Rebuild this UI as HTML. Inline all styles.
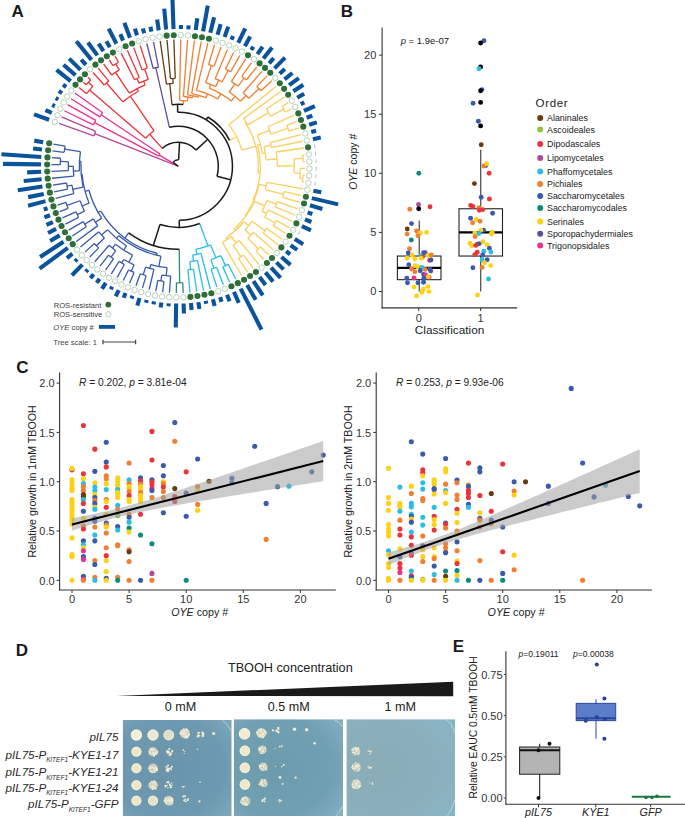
<!DOCTYPE html>
<html><head><meta charset="utf-8"><title>Figure</title>
<style>
html,body{margin:0;padding:0;background:#fff;width:685px;height:818px;overflow:hidden}
svg{display:block;font-family:"Liberation Sans",sans-serif}
.z{stroke:#b3cbe6;stroke-width:1.1}
</style></head><body>
<svg width="685" height="818" viewBox="0 0 685 818"><text x="11.4" y="16.9" font-size="17" font-weight="bold" fill="#1a1a1a">A</text><g fill="none" stroke-linecap="butt"><line x1="178.02" y1="166.19" x2="94.76" y2="133.64" stroke="#b04a9c" stroke-width="1.3"/><path d="M93.9,135.92 A89.7,89.7 0 0,1 95.67,131.4" stroke="#b04a9c" stroke-width="1.3" fill="none"/><line x1="93.9" y1="135.92" x2="59" y2="123.35" stroke="#b04a9c" stroke-width="1.3"/><line x1="95.67" y1="131.4" x2="61.49" y2="116.96" stroke="#b04a9c" stroke-width="1.3"/><line x1="178.04" y1="166.15" x2="159.37" y2="155.08" stroke="#e8338d" stroke-width="1.3"/><path d="M158.79,156.12 A22,22 0 0,1 160.01,154.08" stroke="#e8338d" stroke-width="1.3" fill="none"/><line x1="158.79" y1="156.12" x2="94.52" y2="122.59" stroke="#e8338d" stroke-width="1.3"/><path d="M93.36,124.87 A94.5,94.5 0 0,1 95.73,120.34" stroke="#e8338d" stroke-width="1.3" fill="none"/><line x1="93.36" y1="124.87" x2="64.33" y2="110.71" stroke="#e8338d" stroke-width="1.3"/><line x1="95.73" y1="120.34" x2="67.51" y2="104.63" stroke="#e8338d" stroke-width="1.3"/><line x1="160.01" y1="154.08" x2="101.22" y2="114.8" stroke="#e8338d" stroke-width="1.3"/><path d="M99.86,116.9 A92.7,92.7 0 0,1 102.64,112.73" stroke="#e8338d" stroke-width="1.3" fill="none"/><line x1="99.86" y1="116.9" x2="71" y2="98.73" stroke="#e8338d" stroke-width="1.3"/><line x1="102.64" y1="112.73" x2="74.81" y2="93.03" stroke="#e8338d" stroke-width="1.3"/><line x1="86.61" y1="93.63" x2="78.93" y2="87.54" stroke="#e8343a" stroke-width="1.3"/><line x1="86.18" y1="84.8" x2="83.33" y2="82.28" stroke="#e8343a" stroke-width="1.3"/><line x1="90.72" y1="79.94" x2="88.02" y2="77.27" stroke="#e8343a" stroke-width="1.3"/><path d="M86.18,84.8 A123,123 0 0,1 90.72,79.94" stroke="#e8343a" stroke-width="1.3" fill="none"/><line x1="92.8" y1="86.43" x2="88.42" y2="82.34" stroke="#e8343a" stroke-width="1.3"/><path d="M86.61,93.63 A117,117 0 0,1 92.8,86.43" stroke="#e8343a" stroke-width="1.3" fill="none"/><line x1="145.71" y1="138.25" x2="89.63" y2="89.97" stroke="#e8343a" stroke-width="1.3"/><line x1="104.27" y1="84.94" x2="92.96" y2="72.51" stroke="#e8343a" stroke-width="1.3"/><line x1="108.78" y1="81.06" x2="98.16" y2="68.04" stroke="#e8343a" stroke-width="1.3"/><path d="M104.27,84.94 A110,110 0 0,1 108.78,81.06" stroke="#e8343a" stroke-width="1.3" fill="none"/><line x1="122.82" y1="101.91" x2="106.5" y2="82.97" stroke="#e8343a" stroke-width="1.3"/><line x1="111.72" y1="75" x2="103.59" y2="63.85" stroke="#e8343a" stroke-width="1.3"/><line x1="112.94" y1="65.66" x2="109.24" y2="59.96" stroke="#e8343a" stroke-width="1.3"/><line x1="118.48" y1="62.27" x2="115.09" y2="56.38" stroke="#e8343a" stroke-width="1.3"/><path d="M112.94,65.66 A120,120 0 0,1 118.48,62.27" stroke="#e8343a" stroke-width="1.3" fill="none"/><line x1="119.34" y1="69.9" x2="115.69" y2="63.93" stroke="#e8343a" stroke-width="1.3"/><path d="M111.72,75 A113,113 0 0,1 119.34,69.9" stroke="#e8343a" stroke-width="1.3" fill="none"/><line x1="129.38" y1="93.15" x2="115.48" y2="72.37" stroke="#e8343a" stroke-width="1.3"/><line x1="134.56" y1="79.72" x2="121.13" y2="53.12" stroke="#e8343a" stroke-width="1.3"/><line x1="139.31" y1="77.48" x2="127.33" y2="50.19" stroke="#e8343a" stroke-width="1.3"/><path d="M134.56,79.72 A97,97 0 0,1 139.31,77.48" stroke="#e8343a" stroke-width="1.3" fill="none"/><line x1="139.06" y1="83.09" x2="136.92" y2="78.57" stroke="#e8343a" stroke-width="1.3"/><line x1="142.06" y1="69.89" x2="133.69" y2="47.61" stroke="#e8343a" stroke-width="1.3"/><line x1="147.33" y1="68.07" x2="140.17" y2="45.37" stroke="#e8343a" stroke-width="1.3"/><path d="M142.06,69.89 A103,103 0 0,1 147.33,68.07" stroke="#e8343a" stroke-width="1.3" fill="none"/><line x1="148.27" y1="79.34" x2="144.68" y2="68.94" stroke="#e8343a" stroke-width="1.3"/><path d="M139.06,83.09 A92,92 0 0,1 148.27,79.34" stroke="#e8343a" stroke-width="1.3" fill="none"/><line x1="145.12" y1="84.79" x2="143.61" y2="81.09" stroke="#e8343a" stroke-width="1.3"/><path d="M129.38,93.15 A88,88 0 0,1 145.12,84.79" stroke="#e8343a" stroke-width="1.3" fill="none"/><line x1="138.44" y1="91.22" x2="137.04" y2="88.57" stroke="#e8343a" stroke-width="1.3"/><path d="M122.82,101.91 A85,85 0 0,1 138.44,91.22" stroke="#e8343a" stroke-width="1.3" fill="none"/><line x1="154.03" y1="130.8" x2="130.33" y2="96.13" stroke="#e8343a" stroke-width="1.3"/><path d="M145.71,138.25 A43,43 0 0,1 154.03,130.8" stroke="#e8343a" stroke-width="1.3" fill="none"/><line x1="162.3" y1="148.41" x2="149.63" y2="134.25" stroke="#e8343a" stroke-width="1.3"/><line x1="153.18" y1="68.47" x2="146.77" y2="43.48" stroke="#5b4fa0" stroke-width="1.3"/><line x1="158.51" y1="67.26" x2="153.45" y2="41.96" stroke="#5b4fa0" stroke-width="1.3"/><path d="M153.18,68.47 A101,101 0 0,1 158.51,67.26" stroke="#5b4fa0" stroke-width="1.3" fill="none"/><line x1="169.4" y1="127.3" x2="155.84" y2="67.83" stroke="#5b4fa0" stroke-width="1.3"/><line x1="166.46" y1="84.15" x2="160.21" y2="40.8" stroke="#6a3b12" stroke-width="1.3"/><line x1="170.48" y1="78.65" x2="167.03" y2="40" stroke="#6a3b12" stroke-width="1.3"/><line x1="175.23" y1="78.35" x2="173.87" y2="39.58" stroke="#6a3b12" stroke-width="1.3"/><path d="M170.48,78.65 A88,88 0 0,1 175.23,78.35" stroke="#6a3b12" stroke-width="1.3" fill="none"/><line x1="173.16" y1="83.46" x2="172.85" y2="78.47" stroke="#6a3b12" stroke-width="1.3"/><path d="M166.46,84.15 A83,83 0 0,1 173.16,83.46" stroke="#6a3b12" stroke-width="1.3" fill="none"/><line x1="171.95" y1="104.63" x2="169.8" y2="83.74" stroke="#6a3b12" stroke-width="1.3"/><line x1="179.57" y1="100.31" x2="180.73" y2="39.52" stroke="#f07f32" stroke-width="1.3"/><line x1="183.43" y1="96.49" x2="187.59" y2="39.84" stroke="#f07f32" stroke-width="1.3"/><line x1="187.45" y1="94.88" x2="194.41" y2="40.53" stroke="#f07f32" stroke-width="1.3"/><line x1="191.66" y1="93.52" x2="201.19" y2="41.58" stroke="#f07f32" stroke-width="1.3"/><line x1="196.51" y1="90.46" x2="207.9" y2="43" stroke="#f07f32" stroke-width="1.3"/><line x1="208.58" y1="64.72" x2="214.53" y2="44.78" stroke="#f07f32" stroke-width="1.3"/><line x1="214.03" y1="66.5" x2="221.04" y2="46.92" stroke="#f07f32" stroke-width="1.3"/><path d="M208.58,64.72 A106,106 0 0,1 214.03,66.5" stroke="#f07f32" stroke-width="1.3" fill="none"/><line x1="205.71" y1="82.68" x2="211.32" y2="65.57" stroke="#f07f32" stroke-width="1.3"/><line x1="215.11" y1="78.72" x2="227.44" y2="49.41" stroke="#f07f32" stroke-width="1.3"/><line x1="225.47" y1="69.15" x2="233.69" y2="52.24" stroke="#f07f32" stroke-width="1.3"/><line x1="230.66" y1="71.84" x2="239.77" y2="55.4" stroke="#f07f32" stroke-width="1.3"/><path d="M225.47,69.15 A108,108 0 0,1 230.66,71.84" stroke="#f07f32" stroke-width="1.3" fill="none"/><line x1="222.09" y1="82" x2="228.09" y2="70.46" stroke="#f07f32" stroke-width="1.3"/><path d="M215.11,78.72 A95,95 0 0,1 222.09,82" stroke="#f07f32" stroke-width="1.3" fill="none"/><line x1="215.66" y1="86.63" x2="218.64" y2="80.29" stroke="#f07f32" stroke-width="1.3"/><path d="M205.71,82.68 A88,88 0 0,1 215.66,86.63" stroke="#f07f32" stroke-width="1.3" fill="none"/><line x1="209.27" y1="88.22" x2="210.75" y2="84.5" stroke="#f07f32" stroke-width="1.3"/><line x1="231.44" y1="81.59" x2="245.68" y2="58.88" stroke="#f07f32" stroke-width="1.3"/><line x1="241.71" y1="76.41" x2="251.39" y2="62.69" stroke="#f07f32" stroke-width="1.3"/><line x1="246.48" y1="79.97" x2="256.89" y2="66.79" stroke="#f07f32" stroke-width="1.3"/><path d="M241.71,76.41 A110,110 0 0,1 246.48,79.97" stroke="#f07f32" stroke-width="1.3" fill="none"/><line x1="238.13" y1="86.17" x2="244.12" y2="78.16" stroke="#f07f32" stroke-width="1.3"/><path d="M231.44,81.59 A100,100 0 0,1 238.13,86.17" stroke="#f07f32" stroke-width="1.3" fill="none"/><line x1="229.18" y1="92.06" x2="234.83" y2="83.81" stroke="#f07f32" stroke-width="1.3"/><line x1="243.11" y1="92.79" x2="262.15" y2="71.19" stroke="#f07f32" stroke-width="1.3"/><line x1="256.8" y1="86.42" x2="267.18" y2="75.86" stroke="#f07f32" stroke-width="1.3"/><line x1="261.01" y1="90.78" x2="271.94" y2="80.8" stroke="#f07f32" stroke-width="1.3"/><path d="M256.8,86.42 A112,112 0 0,1 261.01,90.78" stroke="#f07f32" stroke-width="1.3" fill="none"/><line x1="248.85" y1="98.29" x2="258.93" y2="88.57" stroke="#f07f32" stroke-width="1.3"/><path d="M243.11,92.79 A98,98 0 0,1 248.85,98.29" stroke="#f07f32" stroke-width="1.3" fill="none"/><line x1="240.51" y1="101.26" x2="246.04" y2="95.48" stroke="#f07f32" stroke-width="1.3"/><path d="M229.18,92.06 A90,90 0 0,1 240.51,101.26" stroke="#f07f32" stroke-width="1.3" fill="none"/><line x1="231.25" y1="101.09" x2="235.03" y2="96.43" stroke="#f07f32" stroke-width="1.3"/><path d="M209.27,88.22 A84,84 0 0,1 231.25,101.09" stroke="#f07f32" stroke-width="1.3" fill="none"/><line x1="217.72" y1="98.99" x2="220.75" y2="93.82" stroke="#f07f32" stroke-width="1.3"/><path d="M196.51,90.46 A78,78 0 0,1 217.72,98.99" stroke="#f07f32" stroke-width="1.3" fill="none"/><line x1="205.93" y1="97.65" x2="207.43" y2="93.94" stroke="#f07f32" stroke-width="1.3"/><path d="M191.66,93.52 A74,74 0 0,1 205.93,97.65" stroke="#f07f32" stroke-width="1.3" fill="none"/><line x1="198.34" y1="97.15" x2="198.9" y2="95.23" stroke="#f07f32" stroke-width="1.3"/><path d="M187.45,94.88 A72,72 0 0,1 198.34,97.15" stroke="#f07f32" stroke-width="1.3" fill="none"/><line x1="192.53" y1="97.76" x2="192.94" y2="95.8" stroke="#f07f32" stroke-width="1.3"/><path d="M183.43,96.49 A70,70 0 0,1 192.53,97.76" stroke="#f07f32" stroke-width="1.3" fill="none"/><line x1="187.45" y1="100.94" x2="188" y2="96.98" stroke="#f07f32" stroke-width="1.3"/><path d="M179.57,100.31 A66,66 0 0,1 187.45,100.94" stroke="#f07f32" stroke-width="1.3" fill="none"/><line x1="183.2" y1="104.49" x2="183.52" y2="100.51" stroke="#f07f32" stroke-width="1.3"/><path d="M171.95,104.63 A62,62 0 0,1 183.2,104.49" stroke="#1a1a1a" stroke-width="1.5" fill="none"/><line x1="228.99" y1="124.81" x2="276.42" y2="85.99" stroke="#f9d060" stroke-width="1.3"/><line x1="243.66" y1="118.46" x2="280.62" y2="91.41" stroke="#f9d060" stroke-width="1.3"/><line x1="266.26" y1="108.96" x2="284.52" y2="97.05" stroke="#f9d060" stroke-width="1.3"/><line x1="282.22" y1="106.3" x2="288.11" y2="102.9" stroke="#f9d060" stroke-width="1.3"/><line x1="285.32" y1="112.01" x2="291.38" y2="108.93" stroke="#f9d060" stroke-width="1.3"/><path d="M282.22,106.3 A120,120 0 0,1 285.32,112.01" stroke="#f9d060" stroke-width="1.3" fill="none"/><line x1="270.62" y1="116.28" x2="283.81" y2="109.13" stroke="#f9d060" stroke-width="1.3"/><path d="M266.26,108.96 A105,105 0 0,1 270.62,116.28" stroke="#f9d060" stroke-width="1.3" fill="none"/><line x1="247.89" y1="124.85" x2="268.51" y2="112.57" stroke="#f9d060" stroke-width="1.3"/><path d="M243.66,118.46 A81,81 0 0,1 247.89,124.85" stroke="#f9d060" stroke-width="1.3" fill="none"/><line x1="245.02" y1="122.16" x2="245.85" y2="121.61" stroke="#f9d060" stroke-width="1.3"/><line x1="267.97" y1="126.75" x2="294.32" y2="115.13" stroke="#f9d060" stroke-width="1.3"/><line x1="286.81" y1="125.3" x2="296.91" y2="121.48" stroke="#f9d060" stroke-width="1.3"/><line x1="288.87" y1="131.23" x2="299.16" y2="127.96" stroke="#f9d060" stroke-width="1.3"/><path d="M286.81,125.3 A116,116 0 0,1 288.87,131.23" stroke="#f9d060" stroke-width="1.3" fill="none"/><line x1="270.88" y1="134.15" x2="287.88" y2="128.25" stroke="#f9d060" stroke-width="1.3"/><path d="M267.97,126.75 A98,98 0 0,1 270.88,134.15" stroke="#f9d060" stroke-width="1.3" fill="none"/><line x1="257.4" y1="135.18" x2="269.5" y2="130.42" stroke="#f9d060" stroke-width="1.3"/><line x1="270.27" y1="142.51" x2="301.06" y2="134.55" stroke="#f9d060" stroke-width="1.3"/><line x1="271.43" y1="147.52" x2="302.6" y2="141.24" stroke="#f9d060" stroke-width="1.3"/><path d="M270.27,142.51 A95,95 0 0,1 271.43,147.52" stroke="#f9d060" stroke-width="1.3" fill="none"/><line x1="264.06" y1="146.58" x2="270.88" y2="145.01" stroke="#f9d060" stroke-width="1.3"/><line x1="276.26" y1="152.01" x2="303.77" y2="148" stroke="#f9d060" stroke-width="1.3"/><line x1="302.79" y1="154.97" x2="304.58" y2="154.81" stroke="#f9d060" stroke-width="1.3"/><line x1="303.22" y1="161.72" x2="305.01" y2="161.65" stroke="#f9d060" stroke-width="1.3"/><path d="M302.79,154.97 A125,125 0 0,1 303.22,161.72" stroke="#f9d060" stroke-width="1.3" fill="none"/><line x1="294.06" y1="158.92" x2="303.05" y2="158.34" stroke="#f9d060" stroke-width="1.3"/><line x1="300.28" y1="168.43" x2="305.08" y2="168.51" stroke="#f9d060" stroke-width="1.3"/><line x1="302.98" y1="175.24" x2="304.78" y2="175.37" stroke="#f9d060" stroke-width="1.3"/><line x1="302.31" y1="181.97" x2="304.1" y2="182.19" stroke="#f9d060" stroke-width="1.3"/><path d="M302.98,175.24 A125,125 0 0,1 302.31,181.97" stroke="#f9d060" stroke-width="1.3" fill="none"/><line x1="299.71" y1="178.31" x2="302.69" y2="178.61" stroke="#f9d060" stroke-width="1.3"/><path d="M300.28,168.43 A122,122 0 0,1 299.71,178.31" stroke="#f9d060" stroke-width="1.3" fill="none"/><line x1="294.1" y1="173.03" x2="300.09" y2="173.38" stroke="#f9d060" stroke-width="1.3"/><path d="M294.06,158.92 A116,116 0 0,1 294.1,173.03" stroke="#f9d060" stroke-width="1.3" fill="none"/><line x1="281.3" y1="166.01" x2="294.3" y2="165.97" stroke="#f9d060" stroke-width="1.3"/><path d="M281.3,166.01 A103,103 0 0,1 281.3,166.01" stroke="#f9d060" stroke-width="1.3" fill="none"/><line x1="277.3" y1="166.02" x2="281.3" y2="166.01" stroke="#f9d060" stroke-width="1.3"/><path d="M276.26,152.01 A99,99 0 0,1 277.3,166.02" stroke="#f9d060" stroke-width="1.3" fill="none"/><line x1="266.06" y1="159.81" x2="277.03" y2="159" stroke="#f9d060" stroke-width="1.3"/><path d="M264.06,146.58 A88,88 0 0,1 266.06,159.81" stroke="#f9d060" stroke-width="1.3" fill="none"/><line x1="262.35" y1="153.6" x2="265.31" y2="153.16" stroke="#f9d060" stroke-width="1.3"/><path d="M257.4,135.18 A85,85 0 0,1 262.35,153.6" stroke="#f9d060" stroke-width="1.3" fill="none"/><line x1="257.49" y1="145.03" x2="260.39" y2="144.25" stroke="#f9d060" stroke-width="1.3"/><line x1="266.85" y1="182.39" x2="303.06" y2="188.97" stroke="#f9d060" stroke-width="1.3"/><line x1="284.33" y1="191.56" x2="301.65" y2="195.69" stroke="#f9d060" stroke-width="1.3"/><line x1="282.81" y1="197.26" x2="299.88" y2="202.31" stroke="#f9d060" stroke-width="1.3"/><path d="M284.33,191.56 A109,109 0 0,1 282.81,197.26" stroke="#f9d060" stroke-width="1.3" fill="none"/><line x1="265.25" y1="189.52" x2="283.61" y2="194.42" stroke="#f9d060" stroke-width="1.3"/><path d="M266.85,182.39 A90,90 0 0,1 265.25,189.52" stroke="#f9d060" stroke-width="1.3" fill="none"/><line x1="259.29" y1="184.44" x2="266.12" y2="185.97" stroke="#f9d060" stroke-width="1.3"/><line x1="277.22" y1="201.52" x2="297.75" y2="208.84" stroke="#f9d060" stroke-width="1.3"/><line x1="275.17" y1="206.82" x2="295.28" y2="215.23" stroke="#f9d060" stroke-width="1.3"/><path d="M277.22,201.52 A105,105 0 0,1 275.17,206.82" stroke="#f9d060" stroke-width="1.3" fill="none"/><line x1="266.9" y1="200.58" x2="276.23" y2="204.19" stroke="#f9d060" stroke-width="1.3"/><line x1="268.33" y1="209.82" x2="292.46" y2="221.49" stroke="#f9d060" stroke-width="1.3"/><line x1="276.35" y1="220.43" x2="289.31" y2="227.58" stroke="#f9d060" stroke-width="1.3"/><line x1="273.28" y1="225.65" x2="285.83" y2="233.49" stroke="#f9d060" stroke-width="1.3"/><path d="M276.35,220.43 A112,112 0 0,1 273.28,225.65" stroke="#f9d060" stroke-width="1.3" fill="none"/><line x1="264.51" y1="216.98" x2="274.85" y2="223.06" stroke="#f9d060" stroke-width="1.3"/><path d="M268.33,209.82 A100,100 0 0,1 264.51,216.98" stroke="#f9d060" stroke-width="1.3" fill="none"/><line x1="262.08" y1="211.08" x2="266.49" y2="213.44" stroke="#f9d060" stroke-width="1.3"/><path d="M266.9,200.58 A95,95 0 0,1 262.08,211.08" stroke="#f9d060" stroke-width="1.3" fill="none"/><line x1="254.65" y1="201.32" x2="264.65" y2="205.9" stroke="#f9d060" stroke-width="1.3"/><line x1="266.66" y1="228.4" x2="282.04" y2="239.21" stroke="#f9d060" stroke-width="1.3"/><line x1="263.17" y1="233.09" x2="277.95" y2="244.71" stroke="#f9d060" stroke-width="1.3"/><path d="M266.66,228.4 A108,108 0 0,1 263.17,233.09" stroke="#f9d060" stroke-width="1.3" fill="none"/><line x1="252.11" y1="221.22" x2="264.95" y2="230.77" stroke="#f9d060" stroke-width="1.3"/><line x1="253.43" y1="232.3" x2="273.56" y2="249.99" stroke="#f9d060" stroke-width="1.3"/><line x1="260.46" y1="246.76" x2="268.9" y2="255.02" stroke="#f9d060" stroke-width="1.3"/><line x1="255.99" y1="251.09" x2="263.96" y2="259.79" stroke="#f9d060" stroke-width="1.3"/><path d="M260.46,246.76 A115,115 0 0,1 255.99,251.09" stroke="#f9d060" stroke-width="1.3" fill="none"/><line x1="247.83" y1="238.17" x2="258.26" y2="248.95" stroke="#f9d060" stroke-width="1.3"/><path d="M253.43,232.3 A100,100 0 0,1 247.83,238.17" stroke="#f9d060" stroke-width="1.3" fill="none"/><line x1="244.9" y1="229.77" x2="250.69" y2="235.29" stroke="#f9d060" stroke-width="1.3"/><path d="M252.11,221.22 A92,92 0 0,1 244.9,229.77" stroke="#f9d060" stroke-width="1.3" fill="none"/><line x1="244.05" y1="221.74" x2="248.63" y2="225.61" stroke="#f9d060" stroke-width="1.3"/><line x1="239.23" y1="240.48" x2="258.78" y2="264.28" stroke="#f9d060" stroke-width="1.3"/><line x1="243.42" y1="254.95" x2="253.37" y2="268.49" stroke="#f9d060" stroke-width="1.3"/><line x1="238.53" y1="258.34" x2="247.73" y2="272.4" stroke="#f9d060" stroke-width="1.3"/><path d="M243.42,254.95 A110,110 0 0,1 238.53,258.34" stroke="#f9d060" stroke-width="1.3" fill="none"/><line x1="233.02" y1="245.18" x2="241" y2="256.68" stroke="#f9d060" stroke-width="1.3"/><path d="M239.23,240.48 A96,96 0 0,1 233.02,245.18" stroke="#f9d060" stroke-width="1.3" fill="none"/><line x1="231.35" y1="236.51" x2="236.17" y2="242.89" stroke="#f9d060" stroke-width="1.3"/><line x1="222.43" y1="242.43" x2="241.89" y2="276" stroke="#f9d060" stroke-width="1.3"/><path d="M231.35,236.51 A88,88 0 0,1 222.43,242.43" stroke="#f9d060" stroke-width="1.3" fill="none"/><line x1="225.88" y1="237.94" x2="226.98" y2="239.61" stroke="#f9d060" stroke-width="1.3"/><path d="M244.05,221.74 A86,86 0 0,1 225.88,237.94" stroke="#f9d060" stroke-width="1.3" fill="none"/><line x1="234.21" y1="228.99" x2="235.54" y2="230.49" stroke="#f9d060" stroke-width="1.3"/><path d="M254.65,201.32 A84,84 0 0,1 234.21,228.99" stroke="#f9d060" stroke-width="1.3" fill="none"/><line x1="245.06" y1="215.62" x2="245.86" y2="216.21" stroke="#f9d060" stroke-width="1.3"/><path d="M259.29,184.44 A83,83 0 0,1 245.06,215.62" stroke="#f9d060" stroke-width="1.3" fill="none"/><line x1="252.89" y1="200.36" x2="253.8" y2="200.77" stroke="#f9d060" stroke-width="1.3"/><path d="M257.49,145.03 A82,82 0 0,1 252.89,200.36" stroke="#f9d060" stroke-width="1.3" fill="none"/><line x1="258.02" y1="172.93" x2="260.02" y2="173.1" stroke="#f9d060" stroke-width="1.3"/><path d="M245.02,122.16 A80,80 0 0,1 258.02,172.93" stroke="#f9d060" stroke-width="1.3" fill="none"/><line x1="241.75" y1="150.05" x2="255.8" y2="146.45" stroke="#f9d060" stroke-width="1.3"/><path d="M228.99,124.81 A65.5,65.5 0 0,1 241.75,150.05" stroke="#f9d060" stroke-width="1.3" fill="none"/><line x1="229.61" y1="140.34" x2="236.75" y2="136.73" stroke="#f9d060" stroke-width="1.3"/><line x1="187.91" y1="269.86" x2="190.01" y2="292.56" stroke="#2bbde4" stroke-width="1.3"/><line x1="193.49" y1="269.18" x2="196.82" y2="291.74" stroke="#2bbde4" stroke-width="1.3"/><path d="M193.49,269.18 A104,104 0 0,1 187.91,269.86" stroke="#2bbde4" stroke-width="1.3" fill="none"/><line x1="189.75" y1="261.61" x2="190.7" y2="269.56" stroke="#2bbde4" stroke-width="1.3"/><line x1="197.44" y1="260.37" x2="203.58" y2="290.55" stroke="#2bbde4" stroke-width="1.3"/><path d="M197.44,260.37 A96,96 0 0,1 189.75,261.61" stroke="#2bbde4" stroke-width="1.3" fill="none"/><line x1="192.65" y1="255.15" x2="193.61" y2="261.07" stroke="#2bbde4" stroke-width="1.3"/><line x1="200.99" y1="253.39" x2="210.26" y2="289.01" stroke="#2bbde4" stroke-width="1.3"/><path d="M200.99,253.39 A90,90 0 0,1 192.65,255.15" stroke="#2bbde4" stroke-width="1.3" fill="none"/><line x1="195.81" y1="249.48" x2="196.84" y2="254.37" stroke="#2bbde4" stroke-width="1.3"/><line x1="216.65" y1="267.26" x2="223.33" y2="284.84" stroke="#2bbde4" stroke-width="1.3"/><line x1="211.14" y1="269.19" x2="216.85" y2="287.1" stroke="#2bbde4" stroke-width="1.3"/><path d="M216.65,267.26 A108,108 0 0,1 211.14,269.19" stroke="#2bbde4" stroke-width="1.3" fill="none"/><line x1="210.94" y1="259.76" x2="213.91" y2="268.26" stroke="#2bbde4" stroke-width="1.3"/><line x1="228.24" y1="264.31" x2="235.87" y2="279.28" stroke="#2bbde4" stroke-width="1.3"/><line x1="222.87" y1="266.87" x2="229.67" y2="282.23" stroke="#2bbde4" stroke-width="1.3"/><path d="M228.24,264.31 A110,110 0 0,1 222.87,266.87" stroke="#2bbde4" stroke-width="1.3" fill="none"/><line x1="220.84" y1="255.69" x2="225.57" y2="265.63" stroke="#2bbde4" stroke-width="1.3"/><path d="M220.84,255.69 A99,99 0 0,1 210.94,259.76" stroke="#2bbde4" stroke-width="1.3" fill="none"/><line x1="210.62" y1="244.91" x2="215.95" y2="257.86" stroke="#2bbde4" stroke-width="1.3"/><path d="M210.62,244.91 A85,85 0 0,1 195.81,249.48" stroke="#2bbde4" stroke-width="1.3" fill="none"/><line x1="199.66" y1="223.44" x2="208.07" y2="245.92" stroke="#2bbde4" stroke-width="1.3"/><line x1="182.77" y1="282.71" x2="183.17" y2="293.01" stroke="#2f8a78" stroke-width="1.3"/><line x1="176.47" y1="282.79" x2="176.31" y2="293.08" stroke="#2f8a78" stroke-width="1.3"/><path d="M182.77,282.71 A116.5,116.5 0 0,1 176.47,282.79" stroke="#2f8a78" stroke-width="1.3" fill="none"/><line x1="179.24" y1="249.29" x2="179.62" y2="282.79" stroke="#2f8a78" stroke-width="1.3"/><line x1="170.63" y1="276.03" x2="169.45" y2="292.79" stroke="#3a5aab" stroke-width="1.3"/><line x1="163.96" y1="281.41" x2="162.63" y2="292.13" stroke="#3a5aab" stroke-width="1.3"/><line x1="157.76" y1="280.47" x2="155.85" y2="291.1" stroke="#3a5aab" stroke-width="1.3"/><path d="M163.96,281.41 A116,116 0 0,1 157.76,280.47" stroke="#3a5aab" stroke-width="1.3" fill="none"/><line x1="161.76" y1="275.05" x2="160.85" y2="280.98" stroke="#3a5aab" stroke-width="1.3"/><path d="M170.63,276.03 A110,110 0 0,1 161.76,275.05" stroke="#3a5aab" stroke-width="1.3" fill="none"/><line x1="167.06" y1="267.68" x2="166.18" y2="275.63" stroke="#3a5aab" stroke-width="1.3"/><line x1="153.91" y1="269.46" x2="149.13" y2="289.7" stroke="#3a5aab" stroke-width="1.3"/><line x1="146.11" y1="275.66" x2="142.5" y2="287.94" stroke="#3a5aab" stroke-width="1.3"/><line x1="140.25" y1="273.76" x2="135.97" y2="285.83" stroke="#3a5aab" stroke-width="1.3"/><path d="M146.11,275.66 A114,114 0 0,1 140.25,273.76" stroke="#3a5aab" stroke-width="1.3" fill="none"/><line x1="145.63" y1="267.14" x2="143.17" y2="274.75" stroke="#3a5aab" stroke-width="1.3"/><path d="M153.91,269.46 A106,106 0 0,1 145.63,267.14" stroke="#3a5aab" stroke-width="1.3" fill="none"/><line x1="150.83" y1="264.53" x2="149.75" y2="268.38" stroke="#3a5aab" stroke-width="1.3"/><path d="M167.06,267.68 A102,102 0 0,1 150.83,264.53" stroke="#3a5aab" stroke-width="1.3" fill="none"/><line x1="160.88" y1="256.13" x2="158.88" y2="266.43" stroke="#3a5aab" stroke-width="1.3"/><line x1="134.11" y1="272.47" x2="129.57" y2="283.36" stroke="#3a5aab" stroke-width="1.3"/><line x1="128.43" y1="269.92" x2="123.31" y2="280.56" stroke="#3a5aab" stroke-width="1.3"/><path d="M134.11,272.47 A115,115 0 0,1 128.43,269.92" stroke="#3a5aab" stroke-width="1.3" fill="none"/><line x1="134.11" y1="264.85" x2="131.25" y2="271.23" stroke="#3a5aab" stroke-width="1.3"/><line x1="124.34" y1="264.45" x2="117.21" y2="277.42" stroke="#3a5aab" stroke-width="1.3"/><line x1="119.11" y1="261.38" x2="111.29" y2="273.95" stroke="#3a5aab" stroke-width="1.3"/><path d="M124.34,264.45 A112,112 0 0,1 119.11,261.38" stroke="#3a5aab" stroke-width="1.3" fill="none"/><line x1="123.73" y1="259.5" x2="121.71" y2="262.95" stroke="#3a5aab" stroke-width="1.3"/><path d="M134.11,264.85 A108,108 0 0,1 123.73,259.5" stroke="#3a5aab" stroke-width="1.3" fill="none"/><line x1="132.51" y1="255.2" x2="128.85" y2="262.31" stroke="#3a5aab" stroke-width="1.3"/><line x1="113.49" y1="258.86" x2="105.57" y2="270.17" stroke="#3a5aab" stroke-width="1.3"/><line x1="108.57" y1="255.22" x2="100.06" y2="266.08" stroke="#3a5aab" stroke-width="1.3"/><path d="M113.49,258.86 A113,113 0 0,1 108.57,255.22" stroke="#3a5aab" stroke-width="1.3" fill="none"/><line x1="115.77" y1="250.65" x2="111.01" y2="257.08" stroke="#3a5aab" stroke-width="1.3"/><line x1="109.14" y1="245.3" x2="94.78" y2="261.71" stroke="#3a5aab" stroke-width="1.3"/><path d="M115.77,250.65 A105,105 0 0,1 109.14,245.3" stroke="#3a5aab" stroke-width="1.3" fill="none"/><line x1="115.54" y1="244.15" x2="112.4" y2="248.04" stroke="#3a5aab" stroke-width="1.3"/><path d="M132.51,255.2 A100,100 0 0,1 115.54,244.15" stroke="#3a5aab" stroke-width="1.3" fill="none"/><line x1="126.47" y1="245.92" x2="123.74" y2="250.11" stroke="#3a5aab" stroke-width="1.3"/><line x1="98.68" y1="247.89" x2="89.74" y2="257.05" stroke="#3a5aab" stroke-width="1.3"/><line x1="94.38" y1="243.46" x2="84.96" y2="252.13" stroke="#3a5aab" stroke-width="1.3"/><path d="M98.68,247.89 A114,114 0 0,1 94.38,243.46" stroke="#3a5aab" stroke-width="1.3" fill="none"/><line x1="104.4" y1="238.04" x2="96.5" y2="245.71" stroke="#3a5aab" stroke-width="1.3"/><line x1="98.82" y1="231.82" x2="80.46" y2="246.95" stroke="#3a5aab" stroke-width="1.3"/><path d="M104.4,238.04 A103,103 0 0,1 98.82,231.82" stroke="#3a5aab" stroke-width="1.3" fill="none"/><line x1="107.51" y1="229.65" x2="101.55" y2="234.99" stroke="#3a5aab" stroke-width="1.3"/><path d="M126.47,245.92 A95,95 0 0,1 107.51,229.65" stroke="#3a5aab" stroke-width="1.3" fill="none"/><line x1="118.73" y1="235.75" x2="116.45" y2="238.41" stroke="#3a5aab" stroke-width="1.3"/><path d="M160.88,256.13 A91.5,91.5 0 0,1 118.73,235.75" stroke="#3a5aab" stroke-width="1.3" fill="none"/><line x1="157.1" y1="253.25" x2="156.63" y2="255.2" stroke="#3a5aab" stroke-width="1.3"/><line x1="97.81" y1="225.64" x2="76.24" y2="241.55" stroke="#3a5aab" stroke-width="1.3"/><line x1="86.36" y1="226.69" x2="72.32" y2="235.92" stroke="#3a5aab" stroke-width="1.3"/><line x1="83.23" y1="221.63" x2="68.71" y2="230.08" stroke="#3a5aab" stroke-width="1.3"/><path d="M86.36,226.69 A110,110 0 0,1 83.23,221.63" stroke="#3a5aab" stroke-width="1.3" fill="none"/><line x1="93.26" y1="218.92" x2="84.76" y2="224.18" stroke="#3a5aab" stroke-width="1.3"/><path d="M97.81,225.64 A100,100 0 0,1 93.26,218.92" stroke="#3a5aab" stroke-width="1.3" fill="none"/><line x1="101.68" y1="218.13" x2="95.47" y2="222.33" stroke="#3a5aab" stroke-width="1.3"/><line x1="78.6" y1="217.32" x2="65.42" y2="224.06" stroke="#3a5aab" stroke-width="1.3"/><line x1="75.98" y1="211.85" x2="62.46" y2="217.87" stroke="#3a5aab" stroke-width="1.3"/><path d="M78.6,217.32 A112,112 0 0,1 75.98,211.85" stroke="#3a5aab" stroke-width="1.3" fill="none"/><line x1="84.47" y1="211.16" x2="77.25" y2="214.61" stroke="#3a5aab" stroke-width="1.3"/><line x1="68.06" y1="208.4" x2="59.84" y2="211.53" stroke="#3a5aab" stroke-width="1.3"/><line x1="65.95" y1="202.37" x2="57.57" y2="205.06" stroke="#3a5aab" stroke-width="1.3"/><path d="M68.06,208.4 A118,118 0 0,1 65.95,202.37" stroke="#3a5aab" stroke-width="1.3" fill="none"/><line x1="80.17" y1="200.76" x2="66.97" y2="205.4" stroke="#3a5aab" stroke-width="1.3"/><path d="M84.47,211.16 A104,104 0 0,1 80.17,200.76" stroke="#3a5aab" stroke-width="1.3" fill="none"/><line x1="89.11" y1="203.15" x2="82.18" y2="206.02" stroke="#3a5aab" stroke-width="1.3"/><line x1="73.84" y1="193.71" x2="55.65" y2="198.48" stroke="#3a5aab" stroke-width="1.3"/><line x1="67.61" y1="189.02" x2="54.09" y2="191.8" stroke="#3a5aab" stroke-width="1.3"/><line x1="66.54" y1="183" x2="52.89" y2="185.04" stroke="#3a5aab" stroke-width="1.3"/><path d="M67.61,189.02 A113,113 0 0,1 66.54,183" stroke="#3a5aab" stroke-width="1.3" fill="none"/><line x1="71.96" y1="185.15" x2="67.03" y2="186.02" stroke="#3a5aab" stroke-width="1.3"/><path d="M73.84,193.71 A108,108 0 0,1 71.96,185.15" stroke="#3a5aab" stroke-width="1.3" fill="none"/><line x1="83.07" y1="187.2" x2="72.81" y2="189.45" stroke="#3a5aab" stroke-width="1.3"/><line x1="73.77" y1="176.18" x2="52.06" y2="178.23" stroke="#3a5aab" stroke-width="1.3"/><line x1="68.39" y1="170.71" x2="51.6" y2="171.39" stroke="#3a5aab" stroke-width="1.3"/><line x1="60.31" y1="164.65" x2="51.51" y2="164.53" stroke="#3a5aab" stroke-width="1.3"/><line x1="60.57" y1="158.27" x2="51.79" y2="157.68" stroke="#3a5aab" stroke-width="1.3"/><path d="M60.31,164.65 A118,118 0 0,1 60.57,158.27" stroke="#3a5aab" stroke-width="1.3" fill="none"/><line x1="68.39" y1="161.79" x2="60.4" y2="161.46" stroke="#3a5aab" stroke-width="1.3"/><path d="M68.39,170.71 A110,110 0 0,1 68.39,161.79" stroke="#3a5aab" stroke-width="1.3" fill="none"/><line x1="73.3" y1="166.25" x2="68.3" y2="166.25" stroke="#3a5aab" stroke-width="1.3"/><path d="M73.77,176.18 A105,105 0 0,1 73.3,166.25" stroke="#3a5aab" stroke-width="1.3" fill="none"/><line x1="79.41" y1="170.94" x2="73.42" y2="171.22" stroke="#3a5aab" stroke-width="1.3"/><line x1="64.16" y1="152.29" x2="52.45" y2="150.85" stroke="#3a5aab" stroke-width="1.3"/><line x1="65.08" y1="146.13" x2="53.46" y2="144.06" stroke="#3a5aab" stroke-width="1.3"/><path d="M64.16,152.29 A115,115 0 0,1 65.08,146.13" stroke="#3a5aab" stroke-width="1.3" fill="none"/><line x1="80.4" y1="151.58" x2="64.58" y2="149.2" stroke="#3a5aab" stroke-width="1.3"/><path d="M79.41,170.94 A99,99 0 0,1 80.4,151.58" stroke="#3a5aab" stroke-width="1.3" fill="none"/><line x1="80.93" y1="161.31" x2="79.43" y2="161.24" stroke="#3a5aab" stroke-width="1.3"/><path d="M83.07,187.2 A97.5,97.5 0 0,1 80.93,161.31" stroke="#3a5aab" stroke-width="1.3" fill="none"/><line x1="82.13" y1="174.24" x2="81.13" y2="174.33" stroke="#3a5aab" stroke-width="1.3"/><path d="M89.11,203.15 A96.5,96.5 0 0,1 82.13,174.24" stroke="#3a5aab" stroke-width="1.3" fill="none"/><line x1="88.95" y1="190.24" x2="85.09" y2="191.28" stroke="#3a5aab" stroke-width="1.3"/><path d="M101.68,218.13 A92.5,92.5 0 0,1 88.95,190.24" stroke="#3a5aab" stroke-width="1.3" fill="none"/><line x1="100.79" y1="211.05" x2="98.19" y2="212.55" stroke="#3a5aab" stroke-width="1.3"/><path d="M157.1,253.25 A89.5,89.5 0 0,1 100.79,211.05" stroke="#3a5aab" stroke-width="1.3" fill="none"/><line x1="128.7" y1="232.85" x2="124.81" y2="238.06" stroke="#3a5aab" stroke-width="1.3"/><path d="M173.11,162.39 A6.5,6.5 0 0,1 178.64,159.81" stroke="#1a1a1a" stroke-width="1.5" fill="none"/><line x1="173.11" y1="162.39" x2="178.3" y2="166.3" stroke="#1a1a1a" stroke-width="1.3"/><line x1="178.64" y1="159.81" x2="179.56" y2="142.33" stroke="#1a1a1a" stroke-width="1.5"/><path d="M162.3,148.41 A24,24 0 0,1 195.99,150.09" stroke="#1a1a1a" stroke-width="1.5" fill="none"/><line x1="195.99" y1="150.09" x2="207.79" y2="139.28" stroke="#1a1a1a" stroke-width="1.5"/><path d="M169.4,127.3 A40,40 0 0,1 217.03,176.32" stroke="#1a1a1a" stroke-width="1.5" fill="none"/><line x1="217.03" y1="176.32" x2="230.58" y2="179.82" stroke="#1a1a1a" stroke-width="1.5"/><line x1="177.67" y1="112.3" x2="177.57" y2="104.3" stroke="#1a1a1a" stroke-width="1.5"/><path d="M177.67,112.3 A54,54 0 0,1 179.24,220.29" stroke="#1a1a1a" stroke-width="1.5" fill="none"/><line x1="206.11" y1="120.01" x2="207.91" y2="117.01" stroke="#1a1a1a" stroke-width="1.5"/><path d="M207.91,117.01 A57.5,57.5 0 0,1 229.61,140.34" stroke="#1a1a1a" stroke-width="1.5" fill="none"/><line x1="179.24" y1="220.29" x2="179.36" y2="227.29" stroke="#1a1a1a" stroke-width="1.5"/><path d="M199.66,223.44 A61,61 0 0,1 159.96,224.48" stroke="#1a1a1a" stroke-width="1.5" fill="none"/><line x1="159.96" y1="224.48" x2="153.34" y2="245.46" stroke="#1a1a1a" stroke-width="1.5"/><path d="M179.24,249.29 A83,83 0 0,1 128.7,232.85" stroke="#1a1a1a" stroke-width="1.5" fill="none"/></g><g stroke="#0b549c" stroke-width="4.1"><line x1="49.12" y1="119.79" x2="34.06" y2="114.37"/><line x1="51.82" y1="112.87" x2="45.37" y2="110.15"/><line x1="54.9" y1="106.11" x2="52.2" y2="104.8"/><line x1="58.33" y1="99.53" x2="55.71" y2="98.07"/><line x1="62.12" y1="93.14" x2="58.73" y2="91"/><line x1="66.24" y1="86.96" x2="62.98" y2="84.65"/><line x1="70.7" y1="81.02" x2="56.59" y2="69.84"/><line x1="75.47" y1="75.32" x2="63.49" y2="64.72"/><line x1="80.54" y1="69.89" x2="69.15" y2="58.66"/><line x1="85.9" y1="64.75" x2="81.18" y2="59.57"/><line x1="91.52" y1="59.9" x2="76.35" y2="41.3"/><line x1="97.4" y1="55.36" x2="87.98" y2="42.44"/><line x1="103.52" y1="51.15" x2="98.62" y2="43.6"/><line x1="109.86" y1="47.28" x2="106.37" y2="41.21"/><line x1="116.39" y1="43.75" x2="108.73" y2="28.57"/><line x1="123.11" y1="40.58" x2="120.3" y2="34.17"/><line x1="129.99" y1="37.78" x2="124.36" y2="22.8"/><line x1="137.01" y1="35.35" x2="134.91" y2="28.68"/><line x1="144.15" y1="33.31" x2="142.91" y2="28.47"/><line x1="151.4" y1="31.66" x2="150.42" y2="26.76"/><line x1="158.72" y1="30.4" x2="157.15" y2="19.52"/><line x1="166.09" y1="29.54" x2="164.23" y2="8.63"/><line x1="173.51" y1="29.08" x2="172.46" y2="-0.9"/><line x1="180.94" y1="29.03" x2="181.01" y2="25.03"/><line x1="188.36" y1="29.37" x2="188.65" y2="25.38"/><line x1="195.75" y1="30.11" x2="197.27" y2="18.21"/><line x1="203.09" y1="31.26" x2="207.78" y2="5.68"/><line x1="210.35" y1="32.79" x2="214.09" y2="17.24"/><line x1="217.53" y1="34.72" x2="220.67" y2="24.18"/><line x1="224.58" y1="37.04" x2="228.29" y2="26.68"/><line x1="231.51" y1="39.73" x2="233.06" y2="36.04"/><line x1="238.27" y1="42.79" x2="245.26" y2="28.4"/><line x1="244.86" y1="46.21" x2="250.2" y2="36.59"/><line x1="251.26" y1="49.99" x2="253.39" y2="46.6"/><line x1="257.44" y1="54.11" x2="262.63" y2="46.75"/><line x1="263.4" y1="58.55" x2="272.07" y2="47.56"/><line x1="269.1" y1="63.31" x2="273.73" y2="58.06"/><line x1="274.53" y1="68.37" x2="285.05" y2="57.67"/><line x1="279.69" y1="73.72" x2="284.86" y2="69"/><line x1="284.55" y1="79.34" x2="292.29" y2="73"/><line x1="289.1" y1="85.21" x2="298.78" y2="78.12"/><line x1="293.32" y1="91.32" x2="303.37" y2="84.77"/><line x1="297.21" y1="97.65" x2="304.13" y2="93.65"/><line x1="300.74" y1="104.18" x2="304.31" y2="102.37"/><line x1="303.92" y1="110.89" x2="314.9" y2="106.05"/><line x1="306.74" y1="117.77" x2="312.35" y2="115.65"/><line x1="309.17" y1="124.78" x2="316.8" y2="122.37"/><line x1="311.23" y1="131.92" x2="316.07" y2="130.67"/><line x1="312.89" y1="139.16" x2="320.73" y2="137.58"/><line class="z" x1="314.45" y1="144.37" x2="315.04" y2="148.42"/><line class="z" x1="315.43" y1="151.77" x2="315.8" y2="155.84"/><line class="z" x1="316.02" y1="159.2" x2="316.17" y2="163.29"/><line class="z" x1="316.2" y1="166.66" x2="316.13" y2="170.75"/><line class="z" x1="315.98" y1="174.12" x2="315.69" y2="178.2"/><line class="z" x1="315.35" y1="181.55" x2="314.84" y2="185.61"/><line x1="313.39" y1="190.85" x2="321.26" y2="192.28"/><line x1="311.86" y1="198.12" x2="338.13" y2="204.38"/><line x1="309.95" y1="205.3" x2="322.41" y2="208.99"/><line x1="307.64" y1="212.36" x2="312.35" y2="214.03"/><line x1="304.96" y1="219.28" x2="311.42" y2="221.99"/><line x1="301.91" y1="226.06" x2="310.92" y2="230.41"/><line class="z" x1="300" y1="231.15" x2="298.02" y2="234.73"/><line x1="294.74" y1="239.06" x2="303.22" y2="244.36"/><line x1="290.63" y1="245.25" x2="297.18" y2="249.85"/><line x1="286.2" y1="251.21" x2="290.13" y2="254.3"/><line x1="281.45" y1="256.92" x2="290.46" y2="264.84"/><line x1="276.4" y1="262.36" x2="283.54" y2="269.36"/><line x1="271.06" y1="267.53" x2="280.52" y2="277.85"/><line x1="265.45" y1="272.4" x2="273.07" y2="281.67"/><line x1="259.58" y1="276.95" x2="265.5" y2="285.01"/><line x1="253.48" y1="281.19" x2="262.79" y2="295.41"/><line x1="247.16" y1="285.09" x2="255.68" y2="299.79"/><line x1="240.63" y1="288.64" x2="261.52" y2="329.62"/><line x1="233.93" y1="291.83" x2="238.79" y2="302.8"/><line x1="227.06" y1="294.65" x2="229.54" y2="301.2"/><line x1="220.04" y1="297.1" x2="221.56" y2="301.86"/><line x1="212.91" y1="299.17" x2="214.67" y2="305.94"/><line x1="205.67" y1="300.84" x2="206.27" y2="303.78"/><line x1="198.36" y1="302.13" x2="199.38" y2="309.05"/><line x1="190.98" y1="303.01" x2="191.63" y2="309.98"/><line x1="183.57" y1="303.5" x2="183.95" y2="313.49"/><line x1="176.14" y1="303.58" x2="175.77" y2="327.58"/><line x1="168.72" y1="303.27" x2="168.51" y2="306.26"/><line x1="161.33" y1="302.55" x2="160.71" y2="307.51"/><line x1="153.99" y1="301.43" x2="153.46" y2="304.38"/><line x1="146.71" y1="299.92" x2="146.02" y2="302.84"/><line x1="139.53" y1="298.01" x2="137.28" y2="305.69"/><line x1="132.47" y1="295.72" x2="131.47" y2="298.55"/><line x1="125.54" y1="293.06" x2="123.61" y2="297.67"/><line x1="118.76" y1="290.02" x2="115.72" y2="296.33"/><line x1="112.16" y1="286.62" x2="110.71" y2="289.25"/><line x1="105.75" y1="282.86" x2="102.05" y2="288.81"/><line x1="99.55" y1="278.77" x2="96.68" y2="282.87"/><line x1="93.58" y1="274.35" x2="90.5" y2="278.28"/><line x1="87.86" y1="269.61" x2="85.89" y2="271.86"/><line x1="82.41" y1="264.56" x2="71.93" y2="275.3"/><line x1="77.23" y1="259.24" x2="75.03" y2="261.27"/><line x1="72.36" y1="253.63" x2="66.95" y2="258.09"/><line x1="67.79" y1="247.78" x2="39.62" y2="268.55"/><line x1="63.54" y1="241.68" x2="40.14" y2="257.05"/><line x1="59.64" y1="235.36" x2="50.13" y2="240.9"/><line x1="56.07" y1="228.85" x2="48.06" y2="232.95"/><line x1="52.87" y1="222.14" x2="46.48" y2="224.99"/><line x1="50.03" y1="215.28" x2="44.43" y2="217.42"/><line x1="47.57" y1="208.27" x2="43.76" y2="209.49"/><line x1="45.49" y1="201.14" x2="28.08" y2="205.71"/><line x1="43.8" y1="193.91" x2="28.13" y2="197.13"/><line x1="42.51" y1="186.59" x2="17.78" y2="190.29"/><line x1="41.61" y1="179.22" x2="23.69" y2="180.92"/><line x1="41.11" y1="171.81" x2="27.12" y2="172.37"/><line x1="41.01" y1="164.38" x2="3.02" y2="163.85"/><line x1="41.32" y1="156.96" x2="1.41" y2="154.24"/><line x1="42.02" y1="149.57" x2="33.09" y2="148.47"/><line x1="43.13" y1="142.22" x2="34.27" y2="140.64"/></g><circle cx="54.9" cy="121.87" r="2.75" fill="#fff" stroke="#a4c8aa" stroke-width="0.8"/><circle cx="57.49" cy="115.27" r="2.75" fill="#fff" stroke="#a4c8aa" stroke-width="0.8"/><circle cx="60.42" cy="108.81" r="2.75" fill="#fff" stroke="#a4c8aa" stroke-width="0.8"/><circle cx="63.7" cy="102.52" r="2.75" fill="#fff" stroke="#a4c8aa" stroke-width="0.8"/><circle cx="67.32" cy="96.41" r="2.75" fill="#fff" stroke="#a4c8aa" stroke-width="0.8"/><circle cx="71.26" cy="90.51" r="2.75" fill="#fff" stroke="#a4c8aa" stroke-width="0.8"/><circle cx="75.52" cy="84.84" r="3.05" fill="#2e6e38"/><circle cx="80.07" cy="79.4" r="3.05" fill="#2e6e38"/><circle cx="84.92" cy="74.21" r="3.05" fill="#2e6e38"/><circle cx="90.03" cy="69.3" r="2.75" fill="#fff" stroke="#a4c8aa" stroke-width="0.8"/><circle cx="95.41" cy="64.67" r="3.05" fill="#2e6e38"/><circle cx="101.03" cy="60.33" r="3.05" fill="#2e6e38"/><circle cx="106.87" cy="56.31" r="3.05" fill="#2e6e38"/><circle cx="112.92" cy="52.61" r="3.05" fill="#2e6e38"/><circle cx="119.17" cy="49.24" r="2.75" fill="#fff" stroke="#a4c8aa" stroke-width="0.8"/><circle cx="125.58" cy="46.21" r="3.05" fill="#2e6e38"/><circle cx="132.16" cy="43.54" r="3.05" fill="#2e6e38"/><circle cx="138.86" cy="41.22" r="2.75" fill="#fff" stroke="#a4c8aa" stroke-width="0.8"/><circle cx="145.68" cy="39.27" r="2.75" fill="#fff" stroke="#a4c8aa" stroke-width="0.8"/><circle cx="152.6" cy="37.69" r="2.75" fill="#fff" stroke="#a4c8aa" stroke-width="0.8"/><circle cx="159.59" cy="36.49" r="2.75" fill="#fff" stroke="#a4c8aa" stroke-width="0.8"/><circle cx="166.64" cy="35.67" r="3.05" fill="#2e6e38"/><circle cx="173.72" cy="35.23" r="3.05" fill="#2e6e38"/><circle cx="180.82" cy="35.17" r="2.75" fill="#fff" stroke="#a4c8aa" stroke-width="0.8"/><circle cx="187.91" cy="35.5" r="2.75" fill="#fff" stroke="#a4c8aa" stroke-width="0.8"/><circle cx="194.96" cy="36.21" r="3.05" fill="#2e6e38"/><circle cx="201.98" cy="37.3" r="3.05" fill="#2e6e38"/><circle cx="208.92" cy="38.77" r="3.05" fill="#2e6e38"/><circle cx="215.77" cy="40.62" r="2.75" fill="#fff" stroke="#a4c8aa" stroke-width="0.8"/><circle cx="222.51" cy="42.83" r="2.75" fill="#fff" stroke="#a4c8aa" stroke-width="0.8"/><circle cx="229.12" cy="45.4" r="2.75" fill="#fff" stroke="#a4c8aa" stroke-width="0.8"/><circle cx="235.59" cy="48.32" r="2.75" fill="#fff" stroke="#a4c8aa" stroke-width="0.8"/><circle cx="241.88" cy="51.59" r="2.75" fill="#fff" stroke="#a4c8aa" stroke-width="0.8"/><circle cx="247.99" cy="55.2" r="3.05" fill="#2e6e38"/><circle cx="253.9" cy="59.13" r="2.75" fill="#fff" stroke="#a4c8aa" stroke-width="0.8"/><circle cx="259.58" cy="63.38" r="3.05" fill="#2e6e38"/><circle cx="265.03" cy="67.92" r="3.05" fill="#2e6e38"/><circle cx="270.22" cy="72.76" r="3.05" fill="#2e6e38"/><circle cx="275.15" cy="77.87" r="2.75" fill="#fff" stroke="#a4c8aa" stroke-width="0.8"/><circle cx="279.79" cy="83.23" r="3.05" fill="#2e6e38"/><circle cx="284.13" cy="88.84" r="3.05" fill="#2e6e38"/><circle cx="288.17" cy="94.68" r="3.05" fill="#2e6e38"/><circle cx="291.88" cy="100.73" r="2.75" fill="#fff" stroke="#a4c8aa" stroke-width="0.8"/><circle cx="295.26" cy="106.96" r="2.75" fill="#fff" stroke="#a4c8aa" stroke-width="0.8"/><circle cx="298.3" cy="113.38" r="3.05" fill="#2e6e38"/><circle cx="300.98" cy="119.94" r="3.05" fill="#2e6e38"/><circle cx="303.31" cy="126.64" r="3.05" fill="#2e6e38"/><circle cx="305.27" cy="133.46" r="2.75" fill="#fff" stroke="#a4c8aa" stroke-width="0.8"/><circle cx="306.86" cy="140.38" r="2.75" fill="#fff" stroke="#a4c8aa" stroke-width="0.8"/><circle cx="308.08" cy="147.37" r="3.05" fill="#2e6e38"/><circle cx="308.91" cy="154.41" r="2.75" fill="#fff" stroke="#a4c8aa" stroke-width="0.8"/><circle cx="309.36" cy="161.49" r="2.75" fill="#fff" stroke="#a4c8aa" stroke-width="0.8"/><circle cx="309.43" cy="168.59" r="2.75" fill="#fff" stroke="#a4c8aa" stroke-width="0.8"/><circle cx="309.11" cy="175.68" r="2.75" fill="#fff" stroke="#a4c8aa" stroke-width="0.8"/><circle cx="308.42" cy="182.74" r="2.75" fill="#fff" stroke="#a4c8aa" stroke-width="0.8"/><circle cx="307.34" cy="189.75" r="2.75" fill="#fff" stroke="#a4c8aa" stroke-width="0.8"/><circle cx="305.88" cy="196.69" r="3.05" fill="#2e6e38"/><circle cx="304.05" cy="203.55" r="3.05" fill="#2e6e38"/><circle cx="301.85" cy="210.29" r="2.75" fill="#fff" stroke="#a4c8aa" stroke-width="0.8"/><circle cx="299.29" cy="216.91" r="2.75" fill="#fff" stroke="#a4c8aa" stroke-width="0.8"/><circle cx="296.38" cy="223.38" r="3.05" fill="#2e6e38"/><circle cx="293.12" cy="229.68" r="2.75" fill="#fff" stroke="#a4c8aa" stroke-width="0.8"/><circle cx="289.52" cy="235.8" r="3.05" fill="#2e6e38"/><circle cx="285.6" cy="241.71" r="2.75" fill="#fff" stroke="#a4c8aa" stroke-width="0.8"/><circle cx="281.37" cy="247.4" r="3.05" fill="#2e6e38"/><circle cx="276.83" cy="252.86" r="2.75" fill="#fff" stroke="#a4c8aa" stroke-width="0.8"/><circle cx="272" cy="258.06" r="3.05" fill="#2e6e38"/><circle cx="266.9" cy="262.99" r="3.05" fill="#2e6e38"/><circle cx="261.54" cy="267.64" r="2.75" fill="#fff" stroke="#a4c8aa" stroke-width="0.8"/><circle cx="255.94" cy="272" r="3.05" fill="#2e6e38"/><circle cx="250.11" cy="276.04" r="3.05" fill="#2e6e38"/><circle cx="244.07" cy="279.76" r="3.05" fill="#2e6e38"/><circle cx="237.84" cy="283.16" r="3.05" fill="#2e6e38"/><circle cx="231.43" cy="286.2" r="3.05" fill="#2e6e38"/><circle cx="224.87" cy="288.9" r="2.75" fill="#fff" stroke="#a4c8aa" stroke-width="0.8"/><circle cx="218.17" cy="291.24" r="2.75" fill="#fff" stroke="#a4c8aa" stroke-width="0.8"/><circle cx="211.36" cy="293.22" r="3.05" fill="#2e6e38"/><circle cx="204.45" cy="294.82" r="3.05" fill="#2e6e38"/><circle cx="197.46" cy="296.04" r="3.05" fill="#2e6e38"/><circle cx="190.41" cy="296.89" r="3.05" fill="#2e6e38"/><circle cx="183.33" cy="297.35" r="2.75" fill="#fff" stroke="#a4c8aa" stroke-width="0.8"/><circle cx="176.24" cy="297.43" r="2.75" fill="#fff" stroke="#a4c8aa" stroke-width="0.8"/><circle cx="169.15" cy="297.13" r="2.75" fill="#fff" stroke="#a4c8aa" stroke-width="0.8"/><circle cx="162.09" cy="296.44" r="2.75" fill="#fff" stroke="#a4c8aa" stroke-width="0.8"/><circle cx="155.08" cy="295.38" r="2.75" fill="#fff" stroke="#a4c8aa" stroke-width="0.8"/><circle cx="148.13" cy="293.93" r="2.75" fill="#fff" stroke="#a4c8aa" stroke-width="0.8"/><circle cx="141.27" cy="292.11" r="2.75" fill="#fff" stroke="#a4c8aa" stroke-width="0.8"/><circle cx="134.52" cy="289.93" r="2.75" fill="#fff" stroke="#a4c8aa" stroke-width="0.8"/><circle cx="127.9" cy="287.38" r="2.75" fill="#fff" stroke="#a4c8aa" stroke-width="0.8"/><circle cx="121.43" cy="284.48" r="2.75" fill="#fff" stroke="#a4c8aa" stroke-width="0.8"/><circle cx="115.12" cy="281.23" r="2.75" fill="#fff" stroke="#a4c8aa" stroke-width="0.8"/><circle cx="109" cy="277.64" r="2.75" fill="#fff" stroke="#a4c8aa" stroke-width="0.8"/><circle cx="103.08" cy="273.73" r="2.75" fill="#fff" stroke="#a4c8aa" stroke-width="0.8"/><circle cx="97.38" cy="269.51" r="2.75" fill="#fff" stroke="#a4c8aa" stroke-width="0.8"/><circle cx="91.91" cy="264.98" r="2.75" fill="#fff" stroke="#a4c8aa" stroke-width="0.8"/><circle cx="86.7" cy="260.16" r="2.75" fill="#fff" stroke="#a4c8aa" stroke-width="0.8"/><circle cx="81.76" cy="255.07" r="2.75" fill="#fff" stroke="#a4c8aa" stroke-width="0.8"/><circle cx="77.1" cy="249.72" r="2.75" fill="#fff" stroke="#a4c8aa" stroke-width="0.8"/><circle cx="72.74" cy="244.13" r="3.05" fill="#2e6e38"/><circle cx="68.68" cy="238.3" r="3.05" fill="#2e6e38"/><circle cx="64.95" cy="232.27" r="3.05" fill="#2e6e38"/><circle cx="61.55" cy="226.04" r="3.05" fill="#2e6e38"/><circle cx="58.49" cy="219.64" r="3.05" fill="#2e6e38"/><circle cx="55.78" cy="213.09" r="3.05" fill="#2e6e38"/><circle cx="53.43" cy="206.39" r="3.05" fill="#2e6e38"/><circle cx="51.44" cy="199.58" r="3.05" fill="#2e6e38"/><circle cx="49.83" cy="192.67" r="3.05" fill="#2e6e38"/><circle cx="48.59" cy="185.69" r="3.05" fill="#2e6e38"/><circle cx="47.73" cy="178.64" r="3.05" fill="#2e6e38"/><circle cx="47.26" cy="171.56" r="3.05" fill="#2e6e38"/><circle cx="47.16" cy="164.47" r="3.05" fill="#2e6e38"/><circle cx="47.45" cy="157.38" r="3.05" fill="#2e6e38"/><circle cx="48.13" cy="150.32" r="3.05" fill="#2e6e38"/><circle cx="49.18" cy="143.3" r="3.05" fill="#2e6e38"/>
<g font-size="7.6" fill="#3a3a3a">
<text x="53.7" y="308.2">ROS-resistant</text>
<text x="53.7" y="317.1">ROS-sensitive</text>
<text x="53.3" y="330"><tspan font-style="italic">OYE</tspan> copy #</text>
</g>
<circle cx="108.3" cy="304.6" r="2.9" fill="#2e6e38"/>
<circle cx="108.3" cy="314.3" r="2.6" fill="#fff" stroke="#9cc4a2" stroke-width="0.75"/>
<rect x="98.9" y="325" width="16.1" height="3.8" fill="#0b549c"/>
<text x="53.3" y="344.6" font-size="7.6" fill="#444">Tree scale: 1</text>
<g stroke="#444" stroke-width="1.2"><line x1="103" y1="342" x2="135.6" y2="342"/><line x1="103" y1="339.8" x2="103" y2="344.2"/><line x1="135.6" y1="339.8" x2="135.6" y2="344.2"/></g>
<g stroke="#333" stroke-width="1.1"><line x1="382.1" y1="27.5" x2="382.1" y2="308.4"/><line x1="381.6" y1="307.9" x2="517.2" y2="307.9"/></g><line x1="379" y1="291.5" x2="382" y2="291.5" stroke="#333" stroke-width="1"/><text x="376.3" y="295.2" text-anchor="end" font-size="11" fill="#333">0</text><line x1="379" y1="232.4" x2="382" y2="232.4" stroke="#333" stroke-width="1"/><text x="376.3" y="236.1" text-anchor="end" font-size="11" fill="#333">5</text><line x1="379" y1="173.3" x2="382" y2="173.3" stroke="#333" stroke-width="1"/><text x="376.3" y="177" text-anchor="end" font-size="11" fill="#333">10</text><line x1="379" y1="114.2" x2="382" y2="114.2" stroke="#333" stroke-width="1"/><text x="376.3" y="117.9" text-anchor="end" font-size="11" fill="#333">15</text><line x1="379" y1="55.1" x2="382" y2="55.1" stroke="#333" stroke-width="1"/><text x="376.3" y="58.8" text-anchor="end" font-size="11" fill="#333">20</text><line x1="418.8" y1="308" x2="418.8" y2="311" stroke="#333" stroke-width="1"/><text x="418.8" y="322.2" text-anchor="middle" font-size="11" fill="#333">0</text><line x1="480.6" y1="308" x2="480.6" y2="311" stroke="#333" stroke-width="1"/><text x="480.6" y="322.2" text-anchor="middle" font-size="11" fill="#333">1</text><text x="449.5" y="333.7" text-anchor="middle" font-size="11.8" fill="#222">Classification</text><text transform="translate(357.4,161.8) rotate(-90)" text-anchor="middle" font-size="10.5" fill="#222"><tspan font-style="italic">OYE</tspan> copy #</text><text x="400.7" y="43.6" font-size="9.5" fill="#222"><tspan font-style="italic">p</tspan> = 1.9e-07</text><g fill="none" stroke="#222"><line x1="419.2" y1="220.58" x2="419.2" y2="256.04" stroke-width="1"/><line x1="419.2" y1="279.68" x2="419.2" y2="291.5" stroke-width="1"/><rect x="397.4" y="256.04" width="43.6" height="23.64" stroke-width="1.1"/><line x1="397.4" y1="267.86" x2="441" y2="267.86" stroke-width="2.2" stroke="#000"/></g><g fill="none" stroke="#222"><line x1="480.75" y1="149.66" x2="480.75" y2="208.76" stroke-width="1"/><line x1="480.75" y1="256.04" x2="480.75" y2="291.5" stroke-width="1"/><rect x="459" y="208.76" width="43.5" height="47.28" stroke-width="1.1"/><line x1="459" y1="232.4" x2="502.5" y2="232.4" stroke-width="2.2" stroke="#000"/></g><circle cx="418.5" cy="204.5" r="2.45" fill="#b04a9c"/><circle cx="409.8" cy="209.2" r="2.45" fill="#f07f32"/><circle cx="418.7" cy="208.8" r="2.45" fill="#000000"/><circle cx="430" cy="206.8" r="2.45" fill="#e8343a"/><circle cx="411.5" cy="223.6" r="2.45" fill="#3a5aab"/><circle cx="407.2" cy="229" r="2.45" fill="#6a3b12"/><circle cx="416.6" cy="231" r="2.45" fill="#f07f32"/><circle cx="420.3" cy="233" r="2.45" fill="#fcd116"/><circle cx="426.6" cy="232.4" r="2.45" fill="#fcd116"/><circle cx="407.1" cy="234.1" r="2.45" fill="#f07f32"/><circle cx="418" cy="235.7" r="2.45" fill="#f07f32"/><circle cx="411.3" cy="240" r="2.45" fill="#0c8c7c"/><circle cx="409.5" cy="248.8" r="2.45" fill="#f07f32"/><circle cx="408.2" cy="253" r="2.45" fill="#3a5aab"/><circle cx="412.2" cy="255" r="2.45" fill="#fcd116"/><circle cx="423.6" cy="252.8" r="2.45" fill="#3a5aab"/><circle cx="425.2" cy="252.8" r="2.45" fill="#5b4fa0"/><circle cx="421" cy="255.7" r="2.45" fill="#2bbde4"/><circle cx="427.7" cy="255.5" r="2.45" fill="#fcd116"/><circle cx="431.3" cy="255" r="2.45" fill="#f07f32"/><circle cx="407.2" cy="258.2" r="2.45" fill="#fcd116"/><circle cx="414.9" cy="259" r="2.45" fill="#fcd116"/><circle cx="422.3" cy="257.3" r="2.45" fill="#e8343a"/><circle cx="421.2" cy="258.2" r="2.45" fill="#fcd116"/><circle cx="429.7" cy="260.2" r="2.45" fill="#e8343a"/><circle cx="431" cy="260" r="2.45" fill="#3a5aab"/><circle cx="408.8" cy="264.7" r="2.45" fill="#3a5aab"/><circle cx="414.9" cy="265.7" r="2.45" fill="#fcd116"/><circle cx="417.6" cy="266.7" r="2.45" fill="#fcd116"/><circle cx="421.9" cy="267.4" r="2.45" fill="#2bbde4"/><circle cx="411.5" cy="269" r="2.45" fill="#f07f32"/><circle cx="414.9" cy="271.7" r="2.45" fill="#f07f32"/><circle cx="420.3" cy="270.7" r="2.45" fill="#3a5aab"/><circle cx="425.2" cy="269.4" r="2.45" fill="#f07f32"/><circle cx="429.7" cy="269.1" r="2.45" fill="#5b4fa0"/><circle cx="430.8" cy="271.1" r="2.45" fill="#3a5aab"/><circle cx="423.6" cy="274.5" r="2.45" fill="#3a5aab"/><circle cx="425.7" cy="275" r="2.45" fill="#e8338d"/><circle cx="429" cy="277.2" r="2.45" fill="#e8338d"/><circle cx="428.3" cy="276.8" r="2.45" fill="#fcd116"/><circle cx="406.8" cy="278.1" r="2.45" fill="#3a5aab"/><circle cx="413.9" cy="277.9" r="2.45" fill="#e8338d"/><circle cx="423.9" cy="278.5" r="2.45" fill="#3a5aab"/><circle cx="407.5" cy="282.8" r="2.45" fill="#3a5aab"/><circle cx="418" cy="282.8" r="2.45" fill="#3a5aab"/><circle cx="423.6" cy="282.2" r="2.45" fill="#3a5aab"/><circle cx="414" cy="286.9" r="2.45" fill="#fcd116"/><circle cx="427.9" cy="286.6" r="2.45" fill="#fcd116"/><circle cx="423.4" cy="289.3" r="2.45" fill="#fcd116"/><circle cx="421.9" cy="292.2" r="2.45" fill="#fcd116"/><circle cx="429" cy="291.6" r="2.45" fill="#fcd116"/><circle cx="416.6" cy="296" r="2.45" fill="#fcd116"/><circle cx="418.8" cy="173.3" r="2.45" fill="#0c8c7c"/><circle cx="485.8" cy="165.6" r="2.45" fill="#3a5aab"/><circle cx="483.9" cy="166" r="2.45" fill="#f07f32"/><circle cx="486.7" cy="163.8" r="2.45" fill="#fcd116"/><circle cx="489.1" cy="173.3" r="2.45" fill="#e8343a"/><circle cx="474.4" cy="183.6" r="2.45" fill="#6a3b12"/><circle cx="481.2" cy="197.3" r="2.45" fill="#3a5aab"/><circle cx="489.4" cy="199" r="2.45" fill="#e8343a"/><circle cx="470.7" cy="205.4" r="2.45" fill="#e8343a"/><circle cx="472.9" cy="206.5" r="2.45" fill="#e8343a"/><circle cx="479" cy="207.8" r="2.45" fill="#f07f32"/><circle cx="479.4" cy="210.2" r="2.45" fill="#e8343a"/><circle cx="482.7" cy="209.6" r="2.45" fill="#e8343a"/><circle cx="492.6" cy="213.3" r="2.45" fill="#3a5aab"/><circle cx="470.6" cy="218.3" r="2.45" fill="#3a5aab"/><circle cx="476.1" cy="219.4" r="2.45" fill="#fcd116"/><circle cx="472.6" cy="222.8" r="2.45" fill="#f07f32"/><circle cx="479.9" cy="221.2" r="2.45" fill="#f07f32"/><circle cx="483.6" cy="230.2" r="2.45" fill="#3a5aab"/><circle cx="480.8" cy="230.2" r="2.45" fill="#fcd116"/><circle cx="474.8" cy="232.9" r="2.45" fill="#fcd116"/><circle cx="479" cy="233.5" r="2.45" fill="#2bbde4"/><circle cx="492.2" cy="232.2" r="2.45" fill="#fcd116"/><circle cx="491.3" cy="234" r="2.45" fill="#fcd116"/><circle cx="475.1" cy="236.6" r="2.45" fill="#f07f32"/><circle cx="470.2" cy="243.2" r="2.45" fill="#fcd116"/><circle cx="471.7" cy="245.8" r="2.45" fill="#fcd116"/><circle cx="477.5" cy="244.1" r="2.45" fill="#3a5aab"/><circle cx="479.4" cy="243.6" r="2.45" fill="#3a5aab"/><circle cx="483" cy="241.7" r="2.45" fill="#fcd116"/><circle cx="487.2" cy="244.9" r="2.45" fill="#fcd116"/><circle cx="489.4" cy="248.2" r="2.45" fill="#3a5aab"/><circle cx="475.7" cy="245.4" r="2.45" fill="#e8343a"/><circle cx="477.2" cy="252.2" r="2.45" fill="#e8343a"/><circle cx="474.8" cy="254.6" r="2.45" fill="#e8343a"/><circle cx="483.9" cy="251.3" r="2.45" fill="#2bbde4"/><circle cx="490.9" cy="252" r="2.45" fill="#2bbde4"/><circle cx="482.7" cy="255" r="2.45" fill="#3a5aab"/><circle cx="482.1" cy="259.7" r="2.45" fill="#2bbde4"/><circle cx="487.2" cy="259.7" r="2.45" fill="#3a5aab"/><circle cx="484.5" cy="262.8" r="2.45" fill="#fcd116"/><circle cx="490.7" cy="265.6" r="2.45" fill="#fcd116"/><circle cx="472.9" cy="267.8" r="2.45" fill="#3a5aab"/><circle cx="482.1" cy="267.4" r="2.45" fill="#f07f32"/><circle cx="488.5" cy="279" r="2.45" fill="#2bbde4"/><circle cx="477.5" cy="295" r="2.45" fill="#fcd116"/><circle cx="484" cy="40.8" r="2.45" fill="#3a5aab"/><circle cx="480.6" cy="43" r="2.45" fill="#000000"/><circle cx="480.6" cy="66.9" r="2.45" fill="#000000"/><circle cx="479" cy="68.8" r="2.45" fill="#2bbde4"/><circle cx="482" cy="89.6" r="2.45" fill="#3a5aab"/><circle cx="480.6" cy="90.7" r="2.45" fill="#000000"/><circle cx="473.1" cy="103.2" r="2.45" fill="#3a5aab"/><circle cx="480.6" cy="102.4" r="2.45" fill="#000000"/><circle cx="478.4" cy="121.2" r="2.45" fill="#3a5aab"/><circle cx="480.6" cy="125.9" r="2.45" fill="#000000"/><circle cx="481.2" cy="144.8" r="2.45" fill="#6a3b12"/><text x="535.6" y="107" font-size="11.6" letter-spacing="0.6" fill="#222">Order</text><circle cx="540.2" cy="117.9" r="3.0" fill="#6a3b12"/><text x="547" y="121.1" font-size="8.9" fill="#222">Alaninales</text><circle cx="540.2" cy="129.6" r="3.0" fill="#8cc63f"/><text x="547" y="132.8" font-size="8.9" fill="#222">Ascoideales</text><circle cx="540.2" cy="143.9" r="3.0" fill="#e8343a"/><text x="547" y="147.1" font-size="8.9" fill="#222">Dipodascales</text><circle cx="540.2" cy="158" r="3.0" fill="#b04a9c"/><text x="547" y="161.2" font-size="8.9" fill="#222">Lipomycetales</text><circle cx="540.2" cy="171.6" r="3.0" fill="#2bbde4"/><text x="547" y="174.8" font-size="8.9" fill="#222">Phaffomycetales</text><circle cx="540.2" cy="184" r="3.0" fill="#f07f32"/><text x="547" y="187.2" font-size="8.9" fill="#222">Pichiales</text><circle cx="540.2" cy="196" r="3.0" fill="#3a5aab"/><text x="547" y="199.2" font-size="8.9" fill="#222">Saccharomycetales</text><circle cx="540.2" cy="208" r="3.0" fill="#0c8c7c"/><text x="547" y="211.2" font-size="8.9" fill="#222">Saccharomycodales</text><circle cx="540.2" cy="221.5" r="3.0" fill="#fcd116"/><text x="547" y="224.7" font-size="8.9" fill="#222">Serinales</text><circle cx="540.2" cy="233.7" r="3.0" fill="#5b4fa0"/><text x="547" y="236.9" font-size="8.9" fill="#222">Sporopachydermiales</text><circle cx="540.2" cy="245.6" r="3.0" fill="#e8338d"/><text x="547" y="248.8" font-size="8.9" fill="#222">Trigonopsidales</text><text x="340.8" y="16.9" font-size="17" font-weight="bold" fill="#1a1a1a">B</text><circle cx="72" cy="469.87" r="2.55" fill="#e8343a"/><circle cx="72" cy="468.39" r="2.55" fill="#fcd116"/><circle cx="72" cy="479.73" r="2.55" fill="#fcd116"/><circle cx="72" cy="482.69" r="2.55" fill="#fcd116"/><circle cx="72" cy="485.64" r="2.55" fill="#fcd116"/><circle cx="72" cy="488.6" r="2.55" fill="#fcd116"/><circle cx="72" cy="490.57" r="2.55" fill="#fcd116"/><circle cx="72" cy="499.45" r="2.55" fill="#fcd116"/><circle cx="72" cy="502.41" r="2.55" fill="#fcd116"/><circle cx="72" cy="505.36" r="2.55" fill="#fcd116"/><circle cx="72" cy="508.32" r="2.55" fill="#fcd116"/><circle cx="72" cy="511.28" r="2.55" fill="#fcd116"/><circle cx="72" cy="514.24" r="2.55" fill="#fcd116"/><circle cx="72" cy="517.2" r="2.55" fill="#fcd116"/><circle cx="72" cy="520.15" r="2.55" fill="#fcd116"/><circle cx="72" cy="524.1" r="2.55" fill="#fcd116"/><circle cx="72" cy="537.9" r="2.55" fill="#fcd116"/><circle cx="72" cy="554.66" r="2.55" fill="#fcd116"/><circle cx="72" cy="556.64" r="2.55" fill="#fcd116"/><circle cx="72" cy="580.3" r="2.55" fill="#fcd116"/><circle cx="83.42" cy="473.81" r="2.55" fill="#e8343a"/><circle cx="83.42" cy="478.74" r="2.55" fill="#fcd116"/><circle cx="83.42" cy="483.67" r="2.55" fill="#2bbde4"/><circle cx="83.42" cy="486.63" r="2.55" fill="#f07f32"/><circle cx="83.42" cy="490.57" r="2.55" fill="#f07f32"/><circle cx="83.42" cy="494.52" r="2.55" fill="#6a3b12"/><circle cx="83.42" cy="496.49" r="2.55" fill="#6a3b12"/><circle cx="83.42" cy="499.45" r="2.55" fill="#2bbde4"/><circle cx="83.42" cy="503.39" r="2.55" fill="#e8343a"/><circle cx="83.42" cy="511.28" r="2.55" fill="#3a5aab"/><circle cx="83.42" cy="518.18" r="2.55" fill="#fcd116"/><circle cx="83.42" cy="526.07" r="2.55" fill="#f07f32"/><circle cx="83.42" cy="529.03" r="2.55" fill="#e8343a"/><circle cx="83.42" cy="540.86" r="2.55" fill="#3a5aab"/><circle cx="83.42" cy="544.8" r="2.55" fill="#2bbde4"/><circle cx="83.42" cy="547.76" r="2.55" fill="#fcd116"/><circle cx="83.42" cy="550.72" r="2.55" fill="#e8338d"/><circle cx="83.42" cy="556.64" r="2.55" fill="#3a5aab"/><circle cx="83.42" cy="559.59" r="2.55" fill="#e8338d"/><circle cx="83.42" cy="576.36" r="2.55" fill="#3a5aab"/><circle cx="83.42" cy="579.31" r="2.55" fill="#e8338d"/><circle cx="83.42" cy="580.3" r="2.55" fill="#f07f32"/><circle cx="83.42" cy="425.5" r="2.55" fill="#e8343a"/><circle cx="94.84" cy="449.16" r="2.55" fill="#e8343a"/><circle cx="94.84" cy="471.35" r="2.55" fill="#3a5aab"/><circle cx="94.84" cy="482.69" r="2.55" fill="#fcd116"/><circle cx="94.84" cy="487.12" r="2.55" fill="#2bbde4"/><circle cx="94.84" cy="490.57" r="2.55" fill="#2bbde4"/><circle cx="94.84" cy="494.52" r="2.55" fill="#fcd116"/><circle cx="94.84" cy="497.48" r="2.55" fill="#3a5aab"/><circle cx="94.84" cy="500.43" r="2.55" fill="#f07f32"/><circle cx="94.84" cy="503.39" r="2.55" fill="#3a5aab"/><circle cx="94.84" cy="507.34" r="2.55" fill="#fcd116"/><circle cx="94.84" cy="509.31" r="2.55" fill="#2bbde4"/><circle cx="94.84" cy="518.18" r="2.55" fill="#3a5aab"/><circle cx="94.84" cy="521.14" r="2.55" fill="#3a5aab"/><circle cx="94.84" cy="527.06" r="2.55" fill="#f07f32"/><circle cx="94.84" cy="534.94" r="2.55" fill="#2bbde4"/><circle cx="94.84" cy="540.86" r="2.55" fill="#3a5aab"/><circle cx="94.84" cy="560.58" r="2.55" fill="#f07f32"/><circle cx="94.84" cy="564.52" r="2.55" fill="#3a5aab"/><circle cx="94.84" cy="577.34" r="2.55" fill="#f07f32"/><circle cx="94.84" cy="580.3" r="2.55" fill="#2bbde4"/><circle cx="106.26" cy="442.26" r="2.55" fill="#3a5aab"/><circle cx="106.26" cy="461.98" r="2.55" fill="#3a5aab"/><circle cx="106.26" cy="466.91" r="2.55" fill="#e8343a"/><circle cx="106.26" cy="475.78" r="2.55" fill="#f07f32"/><circle cx="106.26" cy="478.74" r="2.55" fill="#f07f32"/><circle cx="106.26" cy="483.67" r="2.55" fill="#fcd116"/><circle cx="106.26" cy="489.59" r="2.55" fill="#2bbde4"/><circle cx="106.26" cy="499.45" r="2.55" fill="#f07f32"/><circle cx="106.26" cy="501.42" r="2.55" fill="#fcd116"/><circle cx="106.26" cy="507.34" r="2.55" fill="#e8343a"/><circle cx="106.26" cy="514.24" r="2.55" fill="#fcd116"/><circle cx="106.26" cy="523.11" r="2.55" fill="#3a5aab"/><circle cx="106.26" cy="525.08" r="2.55" fill="#f07f32"/><circle cx="106.26" cy="527.06" r="2.55" fill="#fcd116"/><circle cx="106.26" cy="532.97" r="2.55" fill="#f07f32"/><circle cx="106.26" cy="547.76" r="2.55" fill="#f07f32"/><circle cx="106.26" cy="555.65" r="2.55" fill="#e8343a"/><circle cx="106.26" cy="560.58" r="2.55" fill="#fcd116"/><circle cx="106.26" cy="571.43" r="2.55" fill="#fcd116"/><circle cx="106.26" cy="578.33" r="2.55" fill="#3a5aab"/><circle cx="106.26" cy="580.3" r="2.55" fill="#fcd116"/><circle cx="117.68" cy="477.76" r="2.55" fill="#fcd116"/><circle cx="117.68" cy="480.71" r="2.55" fill="#fcd116"/><circle cx="117.68" cy="483.67" r="2.55" fill="#fcd116"/><circle cx="117.68" cy="486.63" r="2.55" fill="#fcd116"/><circle cx="117.68" cy="489.59" r="2.55" fill="#2bbde4"/><circle cx="117.68" cy="492.55" r="2.55" fill="#fcd116"/><circle cx="117.68" cy="495.5" r="2.55" fill="#fcd116"/><circle cx="117.68" cy="497.48" r="2.55" fill="#fcd116"/><circle cx="117.68" cy="505.36" r="2.55" fill="#2bbde4"/><circle cx="117.68" cy="509.31" r="2.55" fill="#f07f32"/><circle cx="117.68" cy="515.72" r="2.55" fill="#8cc63f"/><circle cx="117.68" cy="526.56" r="2.55" fill="#3a5aab"/><circle cx="117.68" cy="530.01" r="2.55" fill="#2bbde4"/><circle cx="117.68" cy="544.8" r="2.55" fill="#f07f32"/><circle cx="117.68" cy="545.79" r="2.55" fill="#f07f32"/><circle cx="117.68" cy="577.34" r="2.55" fill="#f07f32"/><circle cx="117.68" cy="580.3" r="2.55" fill="#0c8c7c"/><circle cx="129.1" cy="462.97" r="2.55" fill="#f07f32"/><circle cx="129.1" cy="479.73" r="2.55" fill="#2bbde4"/><circle cx="129.1" cy="483.67" r="2.55" fill="#f07f32"/><circle cx="129.1" cy="486.63" r="2.55" fill="#fcd116"/><circle cx="129.1" cy="488.6" r="2.55" fill="#fcd116"/><circle cx="129.1" cy="491.56" r="2.55" fill="#f07f32"/><circle cx="129.1" cy="495.5" r="2.55" fill="#e8343a"/><circle cx="129.1" cy="499.45" r="2.55" fill="#fcd116"/><circle cx="129.1" cy="501.42" r="2.55" fill="#fcd116"/><circle cx="129.1" cy="514.24" r="2.55" fill="#f07f32"/><circle cx="129.1" cy="517.2" r="2.55" fill="#3a5aab"/><circle cx="129.1" cy="522.13" r="2.55" fill="#2bbde4"/><circle cx="129.1" cy="528.04" r="2.55" fill="#0c8c7c"/><circle cx="129.1" cy="531.99" r="2.55" fill="#fcd116"/><circle cx="129.1" cy="549.73" r="2.55" fill="#f07f32"/><circle cx="129.1" cy="551.71" r="2.55" fill="#6a3b12"/><circle cx="129.1" cy="561.57" r="2.55" fill="#f07f32"/><circle cx="129.1" cy="580.3" r="2.55" fill="#f07f32"/><circle cx="140.52" cy="477.76" r="2.55" fill="#3a5aab"/><circle cx="140.52" cy="480.71" r="2.55" fill="#e8343a"/><circle cx="140.52" cy="484.16" r="2.55" fill="#f07f32"/><circle cx="140.52" cy="486.63" r="2.55" fill="#fcd116"/><circle cx="140.52" cy="489.59" r="2.55" fill="#fcd116"/><circle cx="140.52" cy="492.55" r="2.55" fill="#f07f32"/><circle cx="140.52" cy="495.5" r="2.55" fill="#fcd116"/><circle cx="140.52" cy="498.46" r="2.55" fill="#fcd116"/><circle cx="140.52" cy="501.42" r="2.55" fill="#fcd116"/><circle cx="140.52" cy="514.24" r="2.55" fill="#e8343a"/><circle cx="140.52" cy="534.94" r="2.55" fill="#0c8c7c"/><circle cx="140.52" cy="580.3" r="2.55" fill="#3a5aab"/><circle cx="151.94" cy="431.41" r="2.55" fill="#e8343a"/><circle cx="151.94" cy="460.01" r="2.55" fill="#e8343a"/><circle cx="151.94" cy="479.73" r="2.55" fill="#3a5aab"/><circle cx="151.94" cy="481.7" r="2.55" fill="#e8343a"/><circle cx="151.94" cy="484.66" r="2.55" fill="#e8343a"/><circle cx="151.94" cy="488.6" r="2.55" fill="#e8343a"/><circle cx="151.94" cy="490.57" r="2.55" fill="#3a5aab"/><circle cx="151.94" cy="497.48" r="2.55" fill="#f07f32"/><circle cx="151.94" cy="543.82" r="2.55" fill="#0c8c7c"/><circle cx="151.94" cy="573.4" r="2.55" fill="#b04a9c"/><circle cx="151.94" cy="580.3" r="2.55" fill="#f07f32"/><circle cx="163.36" cy="465.43" r="2.55" fill="#3a5aab"/><circle cx="163.36" cy="475.78" r="2.55" fill="#3a5aab"/><circle cx="163.36" cy="481.7" r="2.55" fill="#fcd116"/><circle cx="163.36" cy="483.67" r="2.55" fill="#f07f32"/><circle cx="163.36" cy="487.12" r="2.55" fill="#e8343a"/><circle cx="163.36" cy="491.56" r="2.55" fill="#f07f32"/><circle cx="163.36" cy="497.48" r="2.55" fill="#f07f32"/><circle cx="163.36" cy="512.76" r="2.55" fill="#3a5aab"/><circle cx="174.78" cy="422.54" r="2.55" fill="#3a5aab"/><circle cx="174.78" cy="441.27" r="2.55" fill="#f07f32"/><circle cx="174.78" cy="488.6" r="2.55" fill="#6a3b12"/><circle cx="174.78" cy="496.49" r="2.55" fill="#e8343a"/><circle cx="174.78" cy="499.45" r="2.55" fill="#f07f32"/><circle cx="174.78" cy="501.42" r="2.55" fill="#e8343a"/><circle cx="186.2" cy="471.84" r="2.55" fill="#e8343a"/><circle cx="186.2" cy="492.94" r="2.55" fill="#3a5aab"/><circle cx="186.2" cy="516.21" r="2.55" fill="#3a5aab"/><circle cx="186.2" cy="580.3" r="2.55" fill="#0c8c7c"/><circle cx="197.62" cy="459.02" r="2.55" fill="#3a5aab"/><circle cx="197.62" cy="486.63" r="2.55" fill="#f07f32"/><circle cx="197.62" cy="491.07" r="2.55" fill="#fcd116"/><circle cx="197.62" cy="504.38" r="2.55" fill="#f07f32"/><circle cx="197.62" cy="510.29" r="2.55" fill="#fcd116"/><circle cx="209.04" cy="481.21" r="2.55" fill="#6a3b12"/><circle cx="231.88" cy="478.25" r="2.55" fill="#3a5aab"/><circle cx="231.88" cy="482.69" r="2.55" fill="#3a5aab"/><circle cx="254.72" cy="446.2" r="2.55" fill="#3a5aab"/><circle cx="266.14" cy="503.39" r="2.55" fill="#3a5aab"/><circle cx="266.14" cy="539.38" r="2.55" fill="#f07f32"/><circle cx="277.56" cy="486.63" r="2.55" fill="#3a5aab"/><circle cx="288.98" cy="486.14" r="2.55" fill="#2bbde4"/><circle cx="311.82" cy="471.84" r="2.55" fill="#3a5aab"/><circle cx="323.24" cy="455.08" r="2.55" fill="#3a5aab"/><polygon points="72,518.2 77.71,517.13 83.42,516.03 89.13,514.9 94.84,513.73 100.55,512.5 106.26,511.23 111.97,509.89 117.68,508.48 123.39,507.01 129.1,505.47 134.81,503.87 140.52,502.22 146.23,500.51 151.94,498.77 157.65,496.99 163.36,495.18 169.07,493.35 174.78,491.5 180.49,489.63 186.2,487.74 191.91,485.85 197.62,483.94 203.33,482.03 209.04,480.1 214.75,478.18 220.46,476.24 226.17,474.31 231.88,472.36 237.59,470.42 243.3,468.47 249.01,466.52 254.72,464.57 260.43,462.61 266.14,460.65 271.85,458.69 277.56,456.73 283.27,454.77 288.98,452.81 294.69,450.84 300.4,448.87 306.11,446.91 311.82,444.94 317.53,442.97 323.24,441 323.24,481.2 317.53,482.11 311.82,483.02 306.11,483.93 300.4,484.84 294.69,485.75 288.98,486.66 283.27,487.57 277.56,488.49 271.85,489.4 266.14,490.32 260.43,491.24 254.72,492.16 249.01,493.08 243.3,494.01 237.59,494.94 231.88,495.87 226.17,496.81 220.46,497.75 214.75,498.69 209.04,499.64 203.33,500.6 197.62,501.56 191.91,502.53 186.2,503.51 180.49,504.51 174.78,505.51 169.07,506.54 163.36,507.58 157.65,508.65 151.94,509.75 146.23,510.88 140.52,512.06 134.81,513.28 129.1,514.56 123.39,515.9 117.68,517.3 111.97,518.77 106.26,520.31 100.55,521.91 94.84,523.56 89.13,525.27 83.42,527.01 77.71,528.79 72,530.6" fill="#a0a0a0" fill-opacity="0.55"/><line x1="72" y1="524.4" x2="323.24" y2="461.1" stroke="#000" stroke-width="2.1"/><g stroke="#333" stroke-width="1.1"><line x1="59.6" y1="372.6" x2="59.6" y2="590.5"/><line x1="59.1" y1="590" x2="335.8" y2="590"/></g><line x1="56.6" y1="580.3" x2="59.6" y2="580.3" stroke="#333" stroke-width="1"/><text x="54.6" y="584.5" text-anchor="end" font-size="11" fill="#333">0.0</text><line x1="56.6" y1="531" x2="59.6" y2="531" stroke="#333" stroke-width="1"/><text x="54.6" y="535.2" text-anchor="end" font-size="11" fill="#333">0.5</text><line x1="56.6" y1="481.7" x2="59.6" y2="481.7" stroke="#333" stroke-width="1"/><text x="54.6" y="485.9" text-anchor="end" font-size="11" fill="#333">1.0</text><line x1="56.6" y1="432.4" x2="59.6" y2="432.4" stroke="#333" stroke-width="1"/><text x="54.6" y="436.6" text-anchor="end" font-size="11" fill="#333">1.5</text><line x1="56.6" y1="383.1" x2="59.6" y2="383.1" stroke="#333" stroke-width="1"/><text x="54.6" y="387.3" text-anchor="end" font-size="11" fill="#333">2.0</text><line x1="72" y1="590" x2="72" y2="593" stroke="#333" stroke-width="1"/><text x="72" y="603" text-anchor="middle" font-size="11" fill="#333">0</text><line x1="129.1" y1="590" x2="129.1" y2="593" stroke="#333" stroke-width="1"/><text x="129.1" y="603" text-anchor="middle" font-size="11" fill="#333">5</text><line x1="186.2" y1="590" x2="186.2" y2="593" stroke="#333" stroke-width="1"/><text x="186.2" y="603" text-anchor="middle" font-size="11" fill="#333">10</text><line x1="243.3" y1="590" x2="243.3" y2="593" stroke="#333" stroke-width="1"/><text x="243.3" y="603" text-anchor="middle" font-size="11" fill="#333">15</text><line x1="300.4" y1="590" x2="300.4" y2="593" stroke="#333" stroke-width="1"/><text x="300.4" y="603" text-anchor="middle" font-size="11" fill="#333">20</text><text x="199.7" y="615.5" text-anchor="middle" font-size="10.7" fill="#222"><tspan font-style="italic">OYE</tspan> copy #</text><text transform="translate(36.1,481.4) rotate(-90)" text-anchor="middle" font-size="10.7" fill="#222">Relative growth in 1mM TBOOH</text><text x="79" y="386.3" font-size="10.2" fill="#222"><tspan font-style="italic">R</tspan> = 0.202, <tspan font-style="italic">p</tspan> = 3.81e-04</text><circle cx="388.5" cy="468.19" r="2.55" fill="#fcd116"/><circle cx="388.5" cy="497.48" r="2.55" fill="#fcd116"/><circle cx="388.5" cy="503.39" r="2.55" fill="#fcd116"/><circle cx="388.5" cy="510.29" r="2.55" fill="#fcd116"/><circle cx="388.5" cy="524.49" r="2.55" fill="#fcd116"/><circle cx="388.5" cy="529.03" r="2.55" fill="#fcd116"/><circle cx="388.5" cy="531.99" r="2.55" fill="#fcd116"/><circle cx="388.5" cy="535.93" r="2.55" fill="#fcd116"/><circle cx="388.5" cy="550.72" r="2.55" fill="#2bbde4"/><circle cx="388.5" cy="554.66" r="2.55" fill="#fcd116"/><circle cx="388.5" cy="563.54" r="2.55" fill="#fcd116"/><circle cx="388.5" cy="567.48" r="2.55" fill="#fcd116"/><circle cx="388.5" cy="578.33" r="2.55" fill="#fcd116"/><circle cx="388.5" cy="580.3" r="2.55" fill="#fcd116"/><circle cx="399.92" cy="487.12" r="2.55" fill="#2bbde4"/><circle cx="399.92" cy="503.39" r="2.55" fill="#fcd116"/><circle cx="399.92" cy="505.36" r="2.55" fill="#fcd116"/><circle cx="399.92" cy="507.34" r="2.55" fill="#fcd116"/><circle cx="399.92" cy="511.28" r="2.55" fill="#2bbde4"/><circle cx="399.92" cy="520.15" r="2.55" fill="#f07f32"/><circle cx="399.92" cy="529.03" r="2.55" fill="#e8343a"/><circle cx="399.92" cy="534.94" r="2.55" fill="#e8343a"/><circle cx="399.92" cy="548.75" r="2.55" fill="#fcd116"/><circle cx="399.92" cy="556.64" r="2.55" fill="#3a5aab"/><circle cx="399.92" cy="563.54" r="2.55" fill="#e8343a"/><circle cx="399.92" cy="567.97" r="2.55" fill="#e8343a"/><circle cx="399.92" cy="572.41" r="2.55" fill="#e8338d"/><circle cx="399.92" cy="580.3" r="2.55" fill="#f07f32"/><circle cx="411.34" cy="441.77" r="2.55" fill="#3a5aab"/><circle cx="411.34" cy="486.14" r="2.55" fill="#fcd116"/><circle cx="411.34" cy="493.53" r="2.55" fill="#f07f32"/><circle cx="411.34" cy="503.39" r="2.55" fill="#2bbde4"/><circle cx="411.34" cy="506.84" r="2.55" fill="#2bbde4"/><circle cx="411.34" cy="514.24" r="2.55" fill="#2bbde4"/><circle cx="411.34" cy="516.21" r="2.55" fill="#3a5aab"/><circle cx="411.34" cy="519.17" r="2.55" fill="#fcd116"/><circle cx="411.34" cy="522.13" r="2.55" fill="#3a5aab"/><circle cx="411.34" cy="531.99" r="2.55" fill="#2bbde4"/><circle cx="411.34" cy="536.92" r="2.55" fill="#e8343a"/><circle cx="411.34" cy="545.3" r="2.55" fill="#e8343a"/><circle cx="411.34" cy="552.69" r="2.55" fill="#3a5aab"/><circle cx="411.34" cy="555.16" r="2.55" fill="#e8343a"/><circle cx="411.34" cy="570.93" r="2.55" fill="#2bbde4"/><circle cx="411.34" cy="575.76" r="2.55" fill="#e8343a"/><circle cx="411.34" cy="577.34" r="2.55" fill="#3a5aab"/><circle cx="411.34" cy="580.3" r="2.55" fill="#fcd116"/><circle cx="422.76" cy="454.09" r="2.55" fill="#3a5aab"/><circle cx="422.76" cy="469.87" r="2.55" fill="#e8343a"/><circle cx="422.76" cy="472.83" r="2.55" fill="#e8343a"/><circle cx="422.76" cy="475.78" r="2.55" fill="#fcd116"/><circle cx="422.76" cy="482.69" r="2.55" fill="#2bbde4"/><circle cx="422.76" cy="489.09" r="2.55" fill="#2bbde4"/><circle cx="422.76" cy="498.46" r="2.55" fill="#f07f32"/><circle cx="422.76" cy="500.43" r="2.55" fill="#f07f32"/><circle cx="422.76" cy="517.2" r="2.55" fill="#2bbde4"/><circle cx="422.76" cy="525.08" r="2.55" fill="#2bbde4"/><circle cx="422.76" cy="535.93" r="2.55" fill="#f07f32"/><circle cx="422.76" cy="545.79" r="2.55" fill="#3a5aab"/><circle cx="422.76" cy="549.73" r="2.55" fill="#fcd116"/><circle cx="422.76" cy="556.64" r="2.55" fill="#fcd116"/><circle cx="422.76" cy="561.57" r="2.55" fill="#f07f32"/><circle cx="422.76" cy="579.31" r="2.55" fill="#8cc63f"/><circle cx="422.76" cy="580.3" r="2.55" fill="#fcd116"/><circle cx="434.18" cy="479.73" r="2.55" fill="#fcd116"/><circle cx="434.18" cy="481.7" r="2.55" fill="#fcd116"/><circle cx="434.18" cy="484.16" r="2.55" fill="#fcd116"/><circle cx="434.18" cy="488.6" r="2.55" fill="#3a5aab"/><circle cx="434.18" cy="489.59" r="2.55" fill="#3a5aab"/><circle cx="434.18" cy="494.02" r="2.55" fill="#fcd116"/><circle cx="434.18" cy="507.34" r="2.55" fill="#2bbde4"/><circle cx="434.18" cy="516.21" r="2.55" fill="#e8343a"/><circle cx="434.18" cy="519.66" r="2.55" fill="#fcd116"/><circle cx="434.18" cy="524.49" r="2.55" fill="#fcd116"/><circle cx="434.18" cy="530.01" r="2.55" fill="#e8343a"/><circle cx="434.18" cy="547.76" r="2.55" fill="#fcd116"/><circle cx="434.18" cy="556.64" r="2.55" fill="#fcd116"/><circle cx="434.18" cy="558.61" r="2.55" fill="#f07f32"/><circle cx="434.18" cy="566" r="2.55" fill="#3a5aab"/><circle cx="434.18" cy="574.58" r="2.55" fill="#2bbde4"/><circle cx="434.18" cy="580.3" r="2.55" fill="#f07f32"/><circle cx="445.6" cy="458.53" r="2.55" fill="#3a5aab"/><circle cx="445.6" cy="468.88" r="2.55" fill="#fcd116"/><circle cx="445.6" cy="471.84" r="2.55" fill="#fcd116"/><circle cx="445.6" cy="484.16" r="2.55" fill="#f07f32"/><circle cx="445.6" cy="490.57" r="2.55" fill="#2bbde4"/><circle cx="445.6" cy="492.55" r="2.55" fill="#fcd116"/><circle cx="445.6" cy="503.39" r="2.55" fill="#fcd116"/><circle cx="445.6" cy="523.11" r="2.55" fill="#3a5aab"/><circle cx="445.6" cy="524.1" r="2.55" fill="#e8343a"/><circle cx="445.6" cy="528.04" r="2.55" fill="#f07f32"/><circle cx="445.6" cy="543.82" r="2.55" fill="#f07f32"/><circle cx="445.6" cy="547.76" r="2.55" fill="#f07f32"/><circle cx="445.6" cy="551.71" r="2.55" fill="#f07f32"/><circle cx="445.6" cy="552.69" r="2.55" fill="#3a5aab"/><circle cx="445.6" cy="570.93" r="2.55" fill="#0c8c7c"/><circle cx="445.6" cy="576.36" r="2.55" fill="#6a3b12"/><circle cx="445.6" cy="580.3" r="2.55" fill="#fcd116"/><circle cx="457.02" cy="480.02" r="2.55" fill="#3a5aab"/><circle cx="457.02" cy="482.69" r="2.55" fill="#f07f32"/><circle cx="457.02" cy="495.01" r="2.55" fill="#f07f32"/><circle cx="457.02" cy="499.45" r="2.55" fill="#f07f32"/><circle cx="457.02" cy="509.31" r="2.55" fill="#e8343a"/><circle cx="457.02" cy="513.25" r="2.55" fill="#fcd116"/><circle cx="457.02" cy="522.52" r="2.55" fill="#fcd116"/><circle cx="457.02" cy="531" r="2.55" fill="#f07f32"/><circle cx="457.02" cy="533.96" r="2.55" fill="#fcd116"/><circle cx="457.02" cy="541.85" r="2.55" fill="#3a5aab"/><circle cx="457.02" cy="550.72" r="2.55" fill="#f07f32"/><circle cx="457.02" cy="561.07" r="2.55" fill="#fcd116"/><circle cx="457.02" cy="563.54" r="2.55" fill="#e8343a"/><circle cx="457.02" cy="570.44" r="2.55" fill="#0c8c7c"/><circle cx="457.02" cy="575.37" r="2.55" fill="#fcd116"/><circle cx="457.02" cy="580.3" r="2.55" fill="#2bbde4"/><circle cx="468.44" cy="462.97" r="2.55" fill="#e8343a"/><circle cx="468.44" cy="484.95" r="2.55" fill="#f07f32"/><circle cx="468.44" cy="486.63" r="2.55" fill="#3a5aab"/><circle cx="468.44" cy="490.57" r="2.55" fill="#e8343a"/><circle cx="468.44" cy="493.53" r="2.55" fill="#e8343a"/><circle cx="468.44" cy="497.48" r="2.55" fill="#e8343a"/><circle cx="468.44" cy="504.38" r="2.55" fill="#3a5aab"/><circle cx="468.44" cy="507.34" r="2.55" fill="#2bbde4"/><circle cx="468.44" cy="580.3" r="2.55" fill="#0c8c7c"/><circle cx="479.86" cy="467.9" r="2.55" fill="#3a5aab"/><circle cx="479.86" cy="471.84" r="2.55" fill="#3a5aab"/><circle cx="479.86" cy="495.5" r="2.55" fill="#e8343a"/><circle cx="479.86" cy="512.76" r="2.55" fill="#fcd116"/><circle cx="479.86" cy="518.18" r="2.55" fill="#3a5aab"/><circle cx="479.86" cy="520.15" r="2.55" fill="#f07f32"/><circle cx="479.86" cy="527.06" r="2.55" fill="#f07f32"/><circle cx="479.86" cy="560.58" r="2.55" fill="#f07f32"/><circle cx="479.86" cy="580.3" r="2.55" fill="#3a5aab"/><circle cx="491.28" cy="493.53" r="2.55" fill="#6a3b12"/><circle cx="491.28" cy="511.28" r="2.55" fill="#e8343a"/><circle cx="491.28" cy="520.15" r="2.55" fill="#3a5aab"/><circle cx="491.28" cy="523.7" r="2.55" fill="#f07f32"/><circle cx="491.28" cy="580.3" r="2.55" fill="#f07f32"/><circle cx="502.7" cy="463.95" r="2.55" fill="#e8343a"/><circle cx="502.7" cy="527.06" r="2.55" fill="#3a5aab"/><circle cx="502.7" cy="551.71" r="2.55" fill="#e8343a"/><circle cx="502.7" cy="573.4" r="2.55" fill="#3a5aab"/><circle cx="502.7" cy="580.3" r="2.55" fill="#0c8c7c"/><circle cx="514.12" cy="481.7" r="2.55" fill="#3a5aab"/><circle cx="514.12" cy="491.07" r="2.55" fill="#f07f32"/><circle cx="514.12" cy="495.01" r="2.55" fill="#fcd116"/><circle cx="514.12" cy="555.16" r="2.55" fill="#fcd116"/><circle cx="514.12" cy="569.75" r="2.55" fill="#f07f32"/><circle cx="525.54" cy="481.7" r="2.55" fill="#6a3b12"/><circle cx="548.38" cy="486.14" r="2.55" fill="#3a5aab"/><circle cx="548.38" cy="503.39" r="2.55" fill="#3a5aab"/><circle cx="571.22" cy="388.42" r="2.55" fill="#3a5aab"/><circle cx="582.64" cy="462.97" r="2.55" fill="#3a5aab"/><circle cx="582.64" cy="580.3" r="2.55" fill="#f07f32"/><circle cx="594.06" cy="496.88" r="2.55" fill="#3a5aab"/><circle cx="605.48" cy="485.15" r="2.55" fill="#2bbde4"/><circle cx="628.32" cy="496.49" r="2.55" fill="#3a5aab"/><circle cx="639.74" cy="505.86" r="2.55" fill="#3a5aab"/><polygon points="388.5,552.4 394.21,550.83 399.92,549.24 405.63,547.6 411.34,545.92 417.05,544.19 422.76,542.39 428.47,540.52 434.18,538.57 439.89,536.53 445.6,534.42 451.31,532.23 457.02,529.98 462.73,527.67 468.44,525.32 474.15,522.93 479.86,520.51 485.57,518.06 491.28,515.6 496.99,513.12 502.7,510.62 508.41,508.11 514.12,505.6 519.83,503.07 525.54,500.54 531.25,498 536.96,495.46 542.67,492.92 548.38,490.37 554.09,487.81 559.8,485.26 565.51,482.7 571.22,480.14 576.93,477.57 582.64,475.01 588.35,472.44 594.06,469.88 599.77,467.31 605.48,464.74 611.19,462.17 616.9,459.6 622.61,457.02 628.32,454.45 634.03,451.87 639.74,449.3 639.74,492.9 634.03,494.31 628.32,495.72 622.61,497.14 616.9,498.55 611.19,499.96 605.48,501.38 599.77,502.8 594.06,504.21 588.35,505.63 582.64,507.05 576.93,508.48 571.22,509.9 565.51,511.32 559.8,512.75 554.09,514.18 548.38,515.62 542.67,517.05 536.96,518.49 531.25,519.94 525.54,521.39 519.83,522.84 514.12,524.3 508.41,525.77 502.7,527.25 496.99,528.74 491.28,530.25 485.57,531.77 479.86,533.31 474.15,534.87 468.44,536.47 462.73,538.11 457.02,539.78 451.31,541.52 445.6,543.32 439.89,545.19 434.18,547.14 428.47,549.18 422.76,551.29 417.05,553.48 411.34,555.73 405.63,558.04 399.92,560.39 394.21,562.78 388.5,565.2" fill="#a0a0a0" fill-opacity="0.55"/><line x1="388.5" y1="558.8" x2="639.74" y2="471.1" stroke="#000" stroke-width="2.1"/><g stroke="#333" stroke-width="1.1"><line x1="376.2" y1="372.6" x2="376.2" y2="590.5"/><line x1="375.7" y1="590" x2="652" y2="590"/></g><line x1="373.2" y1="580.3" x2="376.2" y2="580.3" stroke="#333" stroke-width="1"/><text x="371.2" y="584.5" text-anchor="end" font-size="11" fill="#333">0.0</text><line x1="373.2" y1="531" x2="376.2" y2="531" stroke="#333" stroke-width="1"/><text x="371.2" y="535.2" text-anchor="end" font-size="11" fill="#333">0.5</text><line x1="373.2" y1="481.7" x2="376.2" y2="481.7" stroke="#333" stroke-width="1"/><text x="371.2" y="485.9" text-anchor="end" font-size="11" fill="#333">1.0</text><line x1="373.2" y1="432.4" x2="376.2" y2="432.4" stroke="#333" stroke-width="1"/><text x="371.2" y="436.6" text-anchor="end" font-size="11" fill="#333">1.5</text><line x1="373.2" y1="383.1" x2="376.2" y2="383.1" stroke="#333" stroke-width="1"/><text x="371.2" y="387.3" text-anchor="end" font-size="11" fill="#333">2.0</text><line x1="388.5" y1="590" x2="388.5" y2="593" stroke="#333" stroke-width="1"/><text x="388.5" y="603" text-anchor="middle" font-size="11" fill="#333">0</text><line x1="445.6" y1="590" x2="445.6" y2="593" stroke="#333" stroke-width="1"/><text x="445.6" y="603" text-anchor="middle" font-size="11" fill="#333">5</text><line x1="502.7" y1="590" x2="502.7" y2="593" stroke="#333" stroke-width="1"/><text x="502.7" y="603" text-anchor="middle" font-size="11" fill="#333">10</text><line x1="559.8" y1="590" x2="559.8" y2="593" stroke="#333" stroke-width="1"/><text x="559.8" y="603" text-anchor="middle" font-size="11" fill="#333">15</text><line x1="616.9" y1="590" x2="616.9" y2="593" stroke="#333" stroke-width="1"/><text x="616.9" y="603" text-anchor="middle" font-size="11" fill="#333">20</text><text x="516.1" y="615.5" text-anchor="middle" font-size="10.7" fill="#222"><tspan font-style="italic">OYE</tspan> copy #</text><text transform="translate(351.7,481.4) rotate(-90)" text-anchor="middle" font-size="10.7" fill="#222">Relative growth in 2mM TBOOH</text><text x="396" y="386.3" font-size="10.2" fill="#222"><tspan font-style="italic">R</tspan> = 0.253, <tspan font-style="italic">p</tspan> = 9.93e-06</text><text x="16.3" y="372.5" font-size="17" font-weight="bold" fill="#1a1a1a">C</text><text x="15.8" y="656.2" font-size="17" font-weight="bold" fill="#1a1a1a">D</text><text x="290.3" y="672.4" text-anchor="middle" font-size="12.7" fill="#222">TBOOH concentration</text><polygon points="116.3,696 453.2,681.8 453.2,696.2" fill="#1a1a1a"/><text x="180.4" y="711.2" text-anchor="middle" font-size="12.6" fill="#222">0 mM</text><text x="288.7" y="711.2" text-anchor="middle" font-size="12.6" fill="#222">0.5 mM</text><text x="400.3" y="711.2" text-anchor="middle" font-size="12.6" fill="#222">1 mM</text><defs>
<radialGradient id="pg1" cx="0.42" cy="0.5" r="0.8"><stop offset="0" stop-color="#6994ab"/><stop offset="0.65" stop-color="#6e9ab1"/><stop offset="1" stop-color="#80aabd"/></radialGradient>
<radialGradient id="pg2" cx="0.4" cy="0.5" r="0.8"><stop offset="0" stop-color="#6c9bae"/><stop offset="0.65" stop-color="#72a0b3"/><stop offset="1" stop-color="#86b2c3"/></radialGradient>
<radialGradient id="pg3" cx="0.35" cy="0.5" r="0.85"><stop offset="0" stop-color="#89adb7"/><stop offset="0.6" stop-color="#8bb0bb"/><stop offset="1" stop-color="#86b5c9"/></radialGradient>
<clipPath id="cp1"><rect x="122.9" y="720" width="108.6" height="96"/></clipPath>
<clipPath id="cp2"><rect x="233.9" y="719.4" width="109.1" height="96.6"/></clipPath>
<clipPath id="cp3"><rect x="346.6" y="719.4" width="108.4" height="96.6"/></clipPath>
</defs><rect x="122.9" y="720" width="108.6" height="96" fill="url(#pg1)"/><rect x="233.9" y="719.4" width="109.1" height="96.6" fill="url(#pg2)"/><rect x="346.6" y="719.4" width="108.4" height="96.6" fill="url(#pg3)"/><g fill="none" stroke="#c6e0ea" stroke-width="1" opacity="0.75"><path d="M222.5,720.3 Q228,724 231.2,731"/><path d="M335,720 Q340,722.5 342.6,727"/><path d="M342.6,806 Q340,812 336,815.7"/><path d="M446,719.8 Q452,723 454.6,733"/><path d="M454.6,800 Q452,810 447,815.7"/></g><circle cx="136.4" cy="735" r="5.6" fill="#f5efd8"/><circle cx="136.4" cy="735" r="5.2" fill="none" stroke="#faf6e6" stroke-width="0.8" opacity="0.8"/><circle cx="153" cy="735" r="5.5" fill="#ede7cd"/><circle cx="153" cy="735" r="5.1" fill="none" stroke="#faf6e6" stroke-width="0.8" opacity="0.8"/><circle cx="168.8" cy="735" r="5.3" fill="#e1ddc6"/><circle cx="168.8" cy="735" r="4.9" fill="none" stroke="#faf6e6" stroke-width="0.8" opacity="0.8"/><circle cx="185" cy="733.5" r="5" fill="#e4dec4" opacity="0.9"/><circle cx="188.06" cy="736.94" r="0.72" fill="#f6f0da"/><circle cx="184.89" cy="737.02" r="0.61" fill="#f6f0da"/><circle cx="182.43" cy="729.88" r="0.48" fill="#f6f0da"/><circle cx="189.5" cy="734.31" r="0.6" fill="#f6f0da"/><circle cx="185.02" cy="733.27" r="0.61" fill="#f6f0da"/><circle cx="184.57" cy="731.15" r="0.78" fill="#f6f0da"/><circle cx="185.71" cy="732.99" r="0.46" fill="#f6f0da"/><circle cx="180.32" cy="732.25" r="0.58" fill="#f6f0da"/><circle cx="185.68" cy="736.68" r="0.46" fill="#f6f0da"/><circle cx="185.59" cy="736.76" r="0.62" fill="#f6f0da"/><circle cx="185.25" cy="735.89" r="0.53" fill="#f6f0da"/><circle cx="182.39" cy="734.18" r="0.46" fill="#f6f0da"/><circle cx="186.95" cy="730.32" r="0.67" fill="#f6f0da"/><circle cx="186.95" cy="738.08" r="0.75" fill="#f6f0da"/><circle cx="187.09" cy="735.49" r="0.7" fill="#f6f0da"/><circle cx="183.83" cy="728.8" r="0.6" fill="#f6f0da"/><circle cx="186.97" cy="729.91" r="0.56" fill="#f6f0da"/><circle cx="181" cy="731.04" r="0.75" fill="#f6f0da"/><circle cx="181.16" cy="733.37" r="0.46" fill="#f6f0da"/><circle cx="185.2" cy="737.96" r="0.6" fill="#f6f0da"/><circle cx="186.72" cy="736.78" r="0.7" fill="#f6f0da"/><circle cx="183.6" cy="730.78" r="0.6" fill="#f6f0da"/><circle cx="180.59" cy="733.27" r="0.63" fill="#f6f0da"/><circle cx="182.26" cy="735.67" r="0.46" fill="#f6f0da"/><circle cx="189.04" cy="734.63" r="0.79" fill="#f6f0da"/><circle cx="182.39" cy="731.77" r="0.51" fill="#f6f0da"/><circle cx="180.05" cy="733.43" r="0.72" fill="#f6f0da"/><circle cx="180.51" cy="732.36" r="0.53" fill="#f6f0da"/><circle cx="180.14" cy="733.08" r="0.65" fill="#f6f0da"/><circle cx="182.49" cy="734.16" r="0.64" fill="#f6f0da"/><circle cx="185.36" cy="733.4" r="0.72" fill="#f6f0da"/><circle cx="187.02" cy="729.25" r="0.71" fill="#f6f0da"/><circle cx="186.31" cy="730.14" r="0.65" fill="#f6f0da"/><circle cx="183.94" cy="734.03" r="0.75" fill="#f6f0da"/><circle cx="182.98" cy="732.55" r="0.63" fill="#f6f0da"/><circle cx="182.03" cy="733.78" r="0.57" fill="#f6f0da"/><circle cx="181.17" cy="732.55" r="0.66" fill="#f6f0da"/><circle cx="184.19" cy="733.72" r="0.53" fill="#f6f0da"/><circle cx="186.69" cy="736.93" r="0.75" fill="#f6f0da"/><circle cx="186.34" cy="729.24" r="0.74" fill="#f6f0da"/><circle cx="203.37" cy="733.54" r="0.73" fill="#f3ebd0"/><circle cx="202.83" cy="736.17" r="1.07" fill="#f3ebd0"/><circle cx="199.03" cy="732.75" r="1" fill="#f3ebd0"/><circle cx="197.85" cy="732.79" r="0.78" fill="#f3ebd0"/><circle cx="197.95" cy="735.45" r="1.06" fill="#f3ebd0"/><circle cx="203.51" cy="734.39" r="0.97" fill="#f3ebd0"/><circle cx="198.25" cy="735.13" r="0.72" fill="#f3ebd0"/><circle cx="202.42" cy="734.92" r="0.86" fill="#f3ebd0"/><circle cx="197.52" cy="736.83" r="0.96" fill="#f3ebd0"/><circle cx="198.38" cy="733.85" r="0.71" fill="#f3ebd0"/><circle cx="199.39" cy="735.69" r="0.96" fill="#f3ebd0"/><circle cx="202.96" cy="734.48" r="0.79" fill="#f3ebd0"/><circle cx="202.52" cy="732.51" r="1.07" fill="#f3ebd0"/><circle cx="202.62" cy="732.76" r="1.09" fill="#f3ebd0"/><circle cx="213.6" cy="733.5" r="1.6" fill="#f2ead0"/><circle cx="136.4" cy="751.7" r="5" fill="#f0e6c6"/><circle cx="136.4" cy="751.7" r="4.6" fill="none" stroke="#faf6e6" stroke-width="0.8" opacity="0.8"/><circle cx="136.4" cy="768.3" r="5" fill="#f0e6c6"/><circle cx="136.4" cy="768.3" r="4.6" fill="none" stroke="#faf6e6" stroke-width="0.8" opacity="0.8"/><circle cx="136.4" cy="785.3" r="5" fill="#f0e6c6"/><circle cx="136.4" cy="785.3" r="4.6" fill="none" stroke="#faf6e6" stroke-width="0.8" opacity="0.8"/><circle cx="136.4" cy="800.7" r="5" fill="#f0e6c6"/><circle cx="136.4" cy="800.7" r="4.6" fill="none" stroke="#faf6e6" stroke-width="0.8" opacity="0.8"/><circle cx="153" cy="751.7" r="4.7" fill="#d3cfb6" opacity="0.95"/><circle cx="149.64" cy="752.74" r="0.77" fill="#f6f0da"/><circle cx="149.73" cy="752.42" r="0.66" fill="#f6f0da"/><circle cx="154.34" cy="754.78" r="0.67" fill="#f6f0da"/><circle cx="153.38" cy="750.31" r="0.56" fill="#f6f0da"/><circle cx="156.56" cy="753.98" r="0.69" fill="#f6f0da"/><circle cx="157.5" cy="752.91" r="0.79" fill="#f6f0da"/><circle cx="150.91" cy="748.66" r="0.51" fill="#f6f0da"/><circle cx="156.4" cy="752.02" r="0.47" fill="#f6f0da"/><circle cx="153.85" cy="753.85" r="0.46" fill="#f6f0da"/><circle cx="149.96" cy="752.4" r="0.74" fill="#f6f0da"/><circle cx="149.27" cy="751.25" r="0.62" fill="#f6f0da"/><circle cx="151.34" cy="748.99" r="0.55" fill="#f6f0da"/><circle cx="157.69" cy="751.63" r="0.74" fill="#f6f0da"/><circle cx="152.31" cy="749.15" r="0.53" fill="#f6f0da"/><circle cx="152.7" cy="752.91" r="0.72" fill="#f6f0da"/><circle cx="149.5" cy="754.23" r="0.59" fill="#f6f0da"/><circle cx="157.18" cy="750.57" r="0.45" fill="#f6f0da"/><circle cx="154.12" cy="756.04" r="0.61" fill="#f6f0da"/><circle cx="155.94" cy="751.34" r="0.48" fill="#f6f0da"/><circle cx="150.15" cy="748.69" r="0.54" fill="#f6f0da"/><circle cx="155.31" cy="753.11" r="0.79" fill="#f6f0da"/><circle cx="153.08" cy="750.09" r="0.54" fill="#f6f0da"/><circle cx="153.93" cy="752.38" r="0.73" fill="#f6f0da"/><circle cx="154.54" cy="754.86" r="0.61" fill="#f6f0da"/><circle cx="154.46" cy="755.44" r="0.5" fill="#f6f0da"/><circle cx="152.01" cy="750.44" r="0.6" fill="#f6f0da"/><circle cx="153.56" cy="754.08" r="0.79" fill="#f6f0da"/><circle cx="153.85" cy="749.25" r="0.76" fill="#f6f0da"/><circle cx="153.72" cy="754.56" r="0.75" fill="#f6f0da"/><circle cx="152.06" cy="750.54" r="0.8" fill="#f6f0da"/><circle cx="153.55" cy="754.03" r="0.72" fill="#f6f0da"/><circle cx="151.78" cy="753.95" r="0.48" fill="#f6f0da"/><circle cx="156.03" cy="753.62" r="0.54" fill="#f6f0da"/><circle cx="150.7" cy="750" r="0.61" fill="#f6f0da"/><circle cx="156.16" cy="750.87" r="0.65" fill="#f6f0da"/><circle cx="153" cy="768.3" r="4.7" fill="#d3cfb6" opacity="0.95"/><circle cx="149.24" cy="768.91" r="0.68" fill="#f6f0da"/><circle cx="153.31" cy="768.68" r="0.58" fill="#f6f0da"/><circle cx="152.36" cy="772.48" r="0.69" fill="#f6f0da"/><circle cx="150.18" cy="766.21" r="0.68" fill="#f6f0da"/><circle cx="154.91" cy="770.77" r="0.51" fill="#f6f0da"/><circle cx="153.95" cy="767.67" r="0.74" fill="#f6f0da"/><circle cx="156.48" cy="770.06" r="0.57" fill="#f6f0da"/><circle cx="149.44" cy="770.73" r="0.46" fill="#f6f0da"/><circle cx="157.17" cy="769.98" r="0.63" fill="#f6f0da"/><circle cx="156.93" cy="770.83" r="0.78" fill="#f6f0da"/><circle cx="155.32" cy="770.29" r="0.5" fill="#f6f0da"/><circle cx="151.58" cy="771.72" r="0.51" fill="#f6f0da"/><circle cx="152.65" cy="767.29" r="0.51" fill="#f6f0da"/><circle cx="154.19" cy="765.58" r="0.6" fill="#f6f0da"/><circle cx="150.33" cy="766.46" r="0.58" fill="#f6f0da"/><circle cx="156.93" cy="769.06" r="0.79" fill="#f6f0da"/><circle cx="156.79" cy="767.73" r="0.57" fill="#f6f0da"/><circle cx="150.45" cy="771.26" r="0.69" fill="#f6f0da"/><circle cx="154.72" cy="769.79" r="0.58" fill="#f6f0da"/><circle cx="148.78" cy="768" r="0.63" fill="#f6f0da"/><circle cx="157.2" cy="769.05" r="0.6" fill="#f6f0da"/><circle cx="150.8" cy="768.04" r="0.6" fill="#f6f0da"/><circle cx="149.85" cy="770.97" r="0.49" fill="#f6f0da"/><circle cx="151.11" cy="767.69" r="0.69" fill="#f6f0da"/><circle cx="155.41" cy="768.87" r="0.57" fill="#f6f0da"/><circle cx="152.3" cy="767.49" r="0.61" fill="#f6f0da"/><circle cx="153.64" cy="770.71" r="0.62" fill="#f6f0da"/><circle cx="156.15" cy="767.46" r="0.78" fill="#f6f0da"/><circle cx="155.24" cy="772.23" r="0.58" fill="#f6f0da"/><circle cx="154.52" cy="772.07" r="0.77" fill="#f6f0da"/><circle cx="155.43" cy="768.4" r="0.72" fill="#f6f0da"/><circle cx="151.74" cy="770.24" r="0.45" fill="#f6f0da"/><circle cx="156.58" cy="769.22" r="0.79" fill="#f6f0da"/><circle cx="156.34" cy="768.27" r="0.46" fill="#f6f0da"/><circle cx="151.17" cy="772.05" r="0.74" fill="#f6f0da"/><circle cx="153" cy="785.3" r="4.7" fill="#d3cfb6" opacity="0.95"/><circle cx="152.78" cy="789.18" r="0.69" fill="#f6f0da"/><circle cx="154.18" cy="783.66" r="0.53" fill="#f6f0da"/><circle cx="154.34" cy="787.08" r="0.71" fill="#f6f0da"/><circle cx="155.34" cy="787.8" r="0.52" fill="#f6f0da"/><circle cx="152.14" cy="788.27" r="0.74" fill="#f6f0da"/><circle cx="152.56" cy="784.94" r="0.55" fill="#f6f0da"/><circle cx="155.65" cy="788.8" r="0.73" fill="#f6f0da"/><circle cx="154.47" cy="781.29" r="0.71" fill="#f6f0da"/><circle cx="156.98" cy="783.99" r="0.54" fill="#f6f0da"/><circle cx="154.93" cy="782.65" r="0.71" fill="#f6f0da"/><circle cx="150.17" cy="784.09" r="0.58" fill="#f6f0da"/><circle cx="150.62" cy="786.42" r="0.49" fill="#f6f0da"/><circle cx="154.78" cy="781.5" r="0.79" fill="#f6f0da"/><circle cx="151.73" cy="782.04" r="0.71" fill="#f6f0da"/><circle cx="155.56" cy="788.2" r="0.61" fill="#f6f0da"/><circle cx="153.94" cy="787.19" r="0.63" fill="#f6f0da"/><circle cx="152.93" cy="788.49" r="0.66" fill="#f6f0da"/><circle cx="151.65" cy="786.34" r="0.62" fill="#f6f0da"/><circle cx="153.21" cy="787.57" r="0.52" fill="#f6f0da"/><circle cx="152.15" cy="786.25" r="0.68" fill="#f6f0da"/><circle cx="155.81" cy="784.46" r="0.7" fill="#f6f0da"/><circle cx="153.89" cy="784.9" r="0.5" fill="#f6f0da"/><circle cx="154.49" cy="781.26" r="0.67" fill="#f6f0da"/><circle cx="154.62" cy="787.85" r="0.75" fill="#f6f0da"/><circle cx="156.18" cy="782.54" r="0.52" fill="#f6f0da"/><circle cx="154.74" cy="783.01" r="0.7" fill="#f6f0da"/><circle cx="156.02" cy="788.81" r="0.66" fill="#f6f0da"/><circle cx="152.63" cy="783.17" r="0.67" fill="#f6f0da"/><circle cx="149.84" cy="783.54" r="0.58" fill="#f6f0da"/><circle cx="152.62" cy="782.58" r="0.55" fill="#f6f0da"/><circle cx="154.99" cy="788.64" r="0.49" fill="#f6f0da"/><circle cx="153.19" cy="786.52" r="0.68" fill="#f6f0da"/><circle cx="149.75" cy="784.1" r="0.46" fill="#f6f0da"/><circle cx="150.44" cy="786.32" r="0.48" fill="#f6f0da"/><circle cx="157.69" cy="785.39" r="0.49" fill="#f6f0da"/><circle cx="153" cy="800.7" r="5" fill="#e6e0c6"/><circle cx="153" cy="800.7" r="4.6" fill="none" stroke="#faf6e6" stroke-width="0.8" opacity="0.8"/><circle cx="170.41" cy="754.42" r="0.86" fill="#f3ebd0"/><circle cx="167.05" cy="751.93" r="0.93" fill="#f3ebd0"/><circle cx="169.77" cy="749.16" r="0.81" fill="#f3ebd0"/><circle cx="168.82" cy="751.91" r="0.75" fill="#f3ebd0"/><circle cx="167.94" cy="751.19" r="0.93" fill="#f3ebd0"/><circle cx="169" cy="753.52" r="0.61" fill="#f3ebd0"/><circle cx="172.07" cy="751.65" r="0.97" fill="#f3ebd0"/><circle cx="168.28" cy="751.23" r="0.73" fill="#f3ebd0"/><circle cx="167.51" cy="751.72" r="1" fill="#f3ebd0"/><circle cx="167.79" cy="752.8" r="0.94" fill="#f3ebd0"/><circle cx="171.39" cy="754.29" r="0.79" fill="#f3ebd0"/><circle cx="166.69" cy="750.99" r="0.8" fill="#f3ebd0"/><circle cx="169.08" cy="752.38" r="0.96" fill="#f3ebd0"/><circle cx="169.12" cy="755.04" r="0.68" fill="#f3ebd0"/><circle cx="172.32" cy="751" r="0.92" fill="#f3ebd0"/><circle cx="169.03" cy="748.81" r="0.91" fill="#f3ebd0"/><circle cx="170.68" cy="753.52" r="0.95" fill="#f3ebd0"/><circle cx="169.9" cy="755.18" r="0.97" fill="#f3ebd0"/><circle cx="184.8" cy="750.99" r="0.5" fill="#f3ebd0"/><circle cx="184.94" cy="751.19" r="0.53" fill="#f3ebd0"/><circle cx="183.25" cy="750.15" r="0.8" fill="#f3ebd0"/><circle cx="184.25" cy="753.34" r="0.6" fill="#f3ebd0"/><circle cx="197.5" cy="749.2" r="0.8" fill="#f2ead0"/><circle cx="172.1" cy="766.62" r="0.97" fill="#f3ebd0"/><circle cx="171.33" cy="769.77" r="0.78" fill="#f3ebd0"/><circle cx="167.45" cy="768.04" r="0.68" fill="#f3ebd0"/><circle cx="167.12" cy="768.91" r="0.79" fill="#f3ebd0"/><circle cx="169.9" cy="768.47" r="0.9" fill="#f3ebd0"/><circle cx="166.41" cy="769.59" r="0.91" fill="#f3ebd0"/><circle cx="168.22" cy="769.01" r="0.93" fill="#f3ebd0"/><circle cx="166.19" cy="766.66" r="0.86" fill="#f3ebd0"/><circle cx="171.05" cy="767.88" r="0.92" fill="#f3ebd0"/><circle cx="166.85" cy="770.41" r="0.88" fill="#f3ebd0"/><circle cx="168.36" cy="769.32" r="0.8" fill="#f3ebd0"/><circle cx="168.22" cy="765.44" r="0.79" fill="#f3ebd0"/><circle cx="167.79" cy="767.04" r="0.67" fill="#f3ebd0"/><circle cx="167.27" cy="771.37" r="0.68" fill="#f3ebd0"/><circle cx="169.7" cy="769.09" r="0.61" fill="#f3ebd0"/><circle cx="168.34" cy="771.14" r="0.94" fill="#f3ebd0"/><circle cx="167.68" cy="770.32" r="0.72" fill="#f3ebd0"/><circle cx="167.67" cy="771.45" r="0.83" fill="#f3ebd0"/><circle cx="168.73" cy="769.54" r="0.93" fill="#f3ebd0"/><circle cx="167.88" cy="764.97" r="0.7" fill="#f3ebd0"/><circle cx="167.98" cy="781.91" r="0.67" fill="#f3ebd0"/><circle cx="170.47" cy="785.28" r="0.88" fill="#f3ebd0"/><circle cx="171.57" cy="787.1" r="0.66" fill="#f3ebd0"/><circle cx="167.93" cy="782.19" r="0.92" fill="#f3ebd0"/><circle cx="165.5" cy="786.57" r="1.01" fill="#f3ebd0"/><circle cx="170.84" cy="787.11" r="1" fill="#f3ebd0"/><circle cx="168.63" cy="782.77" r="0.72" fill="#f3ebd0"/><circle cx="169.86" cy="784.98" r="0.92" fill="#f3ebd0"/><circle cx="169.63" cy="784.04" r="0.73" fill="#f3ebd0"/><circle cx="167.85" cy="787.93" r="0.75" fill="#f3ebd0"/><circle cx="171.67" cy="783.04" r="0.73" fill="#f3ebd0"/><circle cx="169.59" cy="784.68" r="0.64" fill="#f3ebd0"/><circle cx="167.07" cy="782.37" r="0.94" fill="#f3ebd0"/><circle cx="172.32" cy="785.12" r="0.71" fill="#f3ebd0"/><circle cx="168.63" cy="781.65" r="0.63" fill="#f3ebd0"/><circle cx="167.31" cy="785.35" r="0.66" fill="#f3ebd0"/><circle cx="165.71" cy="785.7" r="1.01" fill="#f3ebd0"/><circle cx="170.63" cy="787.28" r="1.02" fill="#f3ebd0"/><circle cx="182.4" cy="786.68" r="0.79" fill="#f3ebd0"/><circle cx="183.83" cy="787.06" r="0.71" fill="#f3ebd0"/><circle cx="185.01" cy="786.01" r="0.58" fill="#f3ebd0"/><circle cx="183.14" cy="786.58" r="0.7" fill="#f3ebd0"/><circle cx="200" cy="782.3" r="0.8" fill="#f2ead0"/><circle cx="168.8" cy="800.7" r="4.8" fill="#dcd6bc" opacity="0.95"/><circle cx="168.76" cy="798.54" r="0.52" fill="#f6f0da"/><circle cx="167.88" cy="800.02" r="0.72" fill="#f6f0da"/><circle cx="168.89" cy="799.72" r="0.69" fill="#f6f0da"/><circle cx="164.97" cy="800.63" r="0.78" fill="#f6f0da"/><circle cx="171.86" cy="800.44" r="0.75" fill="#f6f0da"/><circle cx="169.87" cy="796.09" r="0.46" fill="#f6f0da"/><circle cx="170.89" cy="799.84" r="0.5" fill="#f6f0da"/><circle cx="165.2" cy="798.17" r="0.78" fill="#f6f0da"/><circle cx="165.93" cy="803.99" r="0.46" fill="#f6f0da"/><circle cx="171.35" cy="800.19" r="0.64" fill="#f6f0da"/><circle cx="169.51" cy="801.41" r="0.45" fill="#f6f0da"/><circle cx="165.89" cy="798.58" r="0.74" fill="#f6f0da"/><circle cx="170.65" cy="798.19" r="0.75" fill="#f6f0da"/><circle cx="170.17" cy="804.99" r="0.54" fill="#f6f0da"/><circle cx="171.56" cy="799.6" r="0.6" fill="#f6f0da"/><circle cx="167.64" cy="800.57" r="0.48" fill="#f6f0da"/><circle cx="164.9" cy="799.57" r="0.47" fill="#f6f0da"/><circle cx="166.37" cy="802.31" r="0.72" fill="#f6f0da"/><circle cx="170.24" cy="800.61" r="0.64" fill="#f6f0da"/><circle cx="172.17" cy="803.29" r="0.78" fill="#f6f0da"/><circle cx="167.81" cy="797.18" r="0.46" fill="#f6f0da"/><circle cx="170.73" cy="802.04" r="0.48" fill="#f6f0da"/><circle cx="171.94" cy="804.2" r="0.57" fill="#f6f0da"/><circle cx="172.29" cy="798.39" r="0.72" fill="#f6f0da"/><circle cx="172.22" cy="798.61" r="0.57" fill="#f6f0da"/><circle cx="165.86" cy="801.27" r="0.46" fill="#f6f0da"/><circle cx="172.28" cy="801.69" r="0.63" fill="#f6f0da"/><circle cx="172.52" cy="800.05" r="0.74" fill="#f6f0da"/><circle cx="165.18" cy="801.24" r="0.74" fill="#f6f0da"/><circle cx="169.45" cy="800.84" r="0.6" fill="#f6f0da"/><circle cx="167.98" cy="803.73" r="0.47" fill="#f6f0da"/><circle cx="169.53" cy="802.01" r="0.66" fill="#f6f0da"/><circle cx="169.47" cy="800.84" r="0.69" fill="#f6f0da"/><circle cx="168.16" cy="801.04" r="0.78" fill="#f6f0da"/><circle cx="164.16" cy="800.97" r="0.68" fill="#f6f0da"/><circle cx="165.91" cy="799.82" r="0.49" fill="#f6f0da"/><circle cx="183.4" cy="796.55" r="1" fill="#f3ebd0"/><circle cx="185.27" cy="799.47" r="0.95" fill="#f3ebd0"/><circle cx="184.03" cy="800.39" r="0.94" fill="#f3ebd0"/><circle cx="186.24" cy="801.49" r="0.8" fill="#f3ebd0"/><circle cx="187.76" cy="800.03" r="0.84" fill="#f3ebd0"/><circle cx="187.58" cy="800.09" r="0.92" fill="#f3ebd0"/><circle cx="184.84" cy="796.11" r="1.02" fill="#f3ebd0"/><circle cx="188.15" cy="798.94" r="0.87" fill="#f3ebd0"/><circle cx="184.95" cy="801.2" r="0.74" fill="#f3ebd0"/><circle cx="183.43" cy="796.52" r="0.82" fill="#f3ebd0"/><circle cx="199.5" cy="801.4" r="1.1" fill="#f2ead0"/><circle cx="244.5" cy="733.8" r="5.7" fill="#f3ecd2"/><circle cx="244.5" cy="733.8" r="5.3" fill="none" stroke="#faf6e6" stroke-width="0.8" opacity="0.8"/><circle cx="261.5" cy="733.3" r="5" fill="#e2dcc2" opacity="0.9"/><circle cx="263.17" cy="733.43" r="0.59" fill="#f6f0da"/><circle cx="260.75" cy="731.6" r="0.49" fill="#f6f0da"/><circle cx="262" cy="737.62" r="0.5" fill="#f6f0da"/><circle cx="261.26" cy="729.24" r="0.5" fill="#f6f0da"/><circle cx="258.24" cy="732.56" r="0.59" fill="#f6f0da"/><circle cx="263.03" cy="733.26" r="0.46" fill="#f6f0da"/><circle cx="264.45" cy="732.13" r="0.52" fill="#f6f0da"/><circle cx="260.04" cy="735.94" r="0.78" fill="#f6f0da"/><circle cx="262.07" cy="735.56" r="0.65" fill="#f6f0da"/><circle cx="256.83" cy="731.87" r="0.74" fill="#f6f0da"/><circle cx="260.11" cy="735.08" r="0.74" fill="#f6f0da"/><circle cx="262.37" cy="733.24" r="0.71" fill="#f6f0da"/><circle cx="264.23" cy="730.33" r="0.53" fill="#f6f0da"/><circle cx="262.73" cy="729.21" r="0.52" fill="#f6f0da"/><circle cx="260.02" cy="731.49" r="0.46" fill="#f6f0da"/><circle cx="260.01" cy="735.78" r="0.59" fill="#f6f0da"/><circle cx="258.74" cy="729.66" r="0.79" fill="#f6f0da"/><circle cx="266.43" cy="732.56" r="0.73" fill="#f6f0da"/><circle cx="260.77" cy="735.27" r="0.67" fill="#f6f0da"/><circle cx="257.56" cy="732.13" r="0.48" fill="#f6f0da"/><circle cx="263.19" cy="737.79" r="0.66" fill="#f6f0da"/><circle cx="260.98" cy="731.84" r="0.59" fill="#f6f0da"/><circle cx="264.9" cy="731.14" r="0.8" fill="#f6f0da"/><circle cx="262.6" cy="736.49" r="0.73" fill="#f6f0da"/><circle cx="257.32" cy="734.81" r="0.65" fill="#f6f0da"/><circle cx="262.66" cy="734.36" r="0.79" fill="#f6f0da"/><circle cx="263.11" cy="734.8" r="0.57" fill="#f6f0da"/><circle cx="260.45" cy="728.8" r="0.62" fill="#f6f0da"/><circle cx="257.06" cy="733.35" r="0.55" fill="#f6f0da"/><circle cx="258.78" cy="736.11" r="0.67" fill="#f6f0da"/><circle cx="263.13" cy="733.7" r="0.5" fill="#f6f0da"/><circle cx="260.85" cy="729.19" r="0.79" fill="#f6f0da"/><circle cx="261.78" cy="730.79" r="0.72" fill="#f6f0da"/><circle cx="264.44" cy="733.02" r="0.45" fill="#f6f0da"/><circle cx="259.62" cy="735.18" r="0.51" fill="#f6f0da"/><circle cx="263.2" cy="733.79" r="0.75" fill="#f6f0da"/><circle cx="265.23" cy="734.51" r="0.52" fill="#f6f0da"/><circle cx="263.08" cy="737.55" r="0.55" fill="#f6f0da"/><circle cx="262.86" cy="736.38" r="0.69" fill="#f6f0da"/><circle cx="256.92" cy="732.59" r="0.59" fill="#f6f0da"/><circle cx="277.87" cy="731.58" r="0.85" fill="#f3ebd0"/><circle cx="278.45" cy="729.31" r="1.06" fill="#f3ebd0"/><circle cx="278.48" cy="732.31" r="1.12" fill="#f3ebd0"/><circle cx="272.94" cy="730.3" r="1.14" fill="#f3ebd0"/><circle cx="276.33" cy="730.87" r="1.08" fill="#f3ebd0"/><circle cx="276.64" cy="731.05" r="1.07" fill="#f3ebd0"/><circle cx="278.21" cy="728.05" r="1.18" fill="#f3ebd0"/><circle cx="294.5" cy="729.3" r="1.7" fill="#f2ead0"/><circle cx="306.6" cy="729.8" r="1.7" fill="#f2ead0"/><circle cx="244.9" cy="750.8" r="5.2" fill="#efe7c9"/><circle cx="244.9" cy="750.8" r="4.8" fill="none" stroke="#faf6e6" stroke-width="0.8" opacity="0.8"/><circle cx="262.4" cy="749.8" r="4.3" fill="#cfcab2" opacity="0.8"/><circle cx="259.31" cy="748.34" r="0.74" fill="#f6f0da"/><circle cx="261.81" cy="753.22" r="0.76" fill="#f6f0da"/><circle cx="263.96" cy="748.79" r="0.68" fill="#f6f0da"/><circle cx="260.14" cy="747.75" r="0.79" fill="#f6f0da"/><circle cx="259.58" cy="749.29" r="0.78" fill="#f6f0da"/><circle cx="260.85" cy="748.02" r="0.56" fill="#f6f0da"/><circle cx="261.41" cy="749.82" r="0.66" fill="#f6f0da"/><circle cx="262.15" cy="747" r="0.75" fill="#f6f0da"/><circle cx="265.28" cy="748.4" r="0.69" fill="#f6f0da"/><circle cx="263.15" cy="750.48" r="0.79" fill="#f6f0da"/><circle cx="261.97" cy="751.74" r="0.76" fill="#f6f0da"/><circle cx="262.4" cy="748.29" r="0.56" fill="#f6f0da"/><circle cx="262.5" cy="752.04" r="0.45" fill="#f6f0da"/><circle cx="260.06" cy="749.43" r="0.59" fill="#f6f0da"/><circle cx="262.96" cy="751.11" r="0.46" fill="#f6f0da"/><circle cx="264.99" cy="747.13" r="0.65" fill="#f6f0da"/><circle cx="263.58" cy="750.96" r="0.49" fill="#f6f0da"/><circle cx="261.98" cy="750.74" r="0.55" fill="#f6f0da"/><circle cx="262.95" cy="751.61" r="0.68" fill="#f6f0da"/><circle cx="259.54" cy="750.58" r="0.58" fill="#f6f0da"/><circle cx="258.7" cy="748.88" r="0.56" fill="#f6f0da"/><circle cx="265.1" cy="751.07" r="0.58" fill="#f6f0da"/><circle cx="262.67" cy="748.39" r="0.76" fill="#f6f0da"/><circle cx="265.55" cy="750.09" r="0.61" fill="#f6f0da"/><circle cx="260.78" cy="753.52" r="0.7" fill="#f6f0da"/><circle cx="263.97" cy="752.39" r="0.66" fill="#f6f0da"/><circle cx="263.64" cy="750.07" r="0.66" fill="#f6f0da"/><circle cx="262.02" cy="746.9" r="0.6" fill="#f6f0da"/><circle cx="260.21" cy="749.7" r="0.76" fill="#f6f0da"/><circle cx="279.67" cy="746.59" r="0.9" fill="#f3ebd0"/><circle cx="281.93" cy="745.96" r="0.71" fill="#f3ebd0"/><circle cx="281.73" cy="746.49" r="0.68" fill="#f3ebd0"/><circle cx="275" cy="748.8" r="0.6" fill="#f2ead0"/><circle cx="314.6" cy="743.3" r="1.3" fill="#f2ead0"/><circle cx="244.9" cy="767.8" r="5.2" fill="#efe7c9"/><circle cx="244.9" cy="767.8" r="4.8" fill="none" stroke="#faf6e6" stroke-width="0.8" opacity="0.8"/><circle cx="263.3" cy="766.8" r="4.3" fill="#cfcab2" opacity="0.8"/><circle cx="259.75" cy="765.68" r="0.71" fill="#f6f0da"/><circle cx="264.82" cy="765.08" r="0.79" fill="#f6f0da"/><circle cx="259.9" cy="765.29" r="0.71" fill="#f6f0da"/><circle cx="265.33" cy="765.83" r="0.58" fill="#f6f0da"/><circle cx="262.63" cy="763.58" r="0.71" fill="#f6f0da"/><circle cx="260.53" cy="769.96" r="0.45" fill="#f6f0da"/><circle cx="262.83" cy="764.21" r="0.46" fill="#f6f0da"/><circle cx="262.86" cy="765.93" r="0.53" fill="#f6f0da"/><circle cx="262.53" cy="768.32" r="0.51" fill="#f6f0da"/><circle cx="266.84" cy="768.56" r="0.48" fill="#f6f0da"/><circle cx="263.93" cy="767.81" r="0.77" fill="#f6f0da"/><circle cx="259.56" cy="765.69" r="0.79" fill="#f6f0da"/><circle cx="260.6" cy="766.88" r="0.59" fill="#f6f0da"/><circle cx="263" cy="770.1" r="0.79" fill="#f6f0da"/><circle cx="259.56" cy="766.72" r="0.76" fill="#f6f0da"/><circle cx="265" cy="763.71" r="0.64" fill="#f6f0da"/><circle cx="265.46" cy="768.32" r="0.75" fill="#f6f0da"/><circle cx="259.98" cy="768.06" r="0.54" fill="#f6f0da"/><circle cx="261.55" cy="765.8" r="0.73" fill="#f6f0da"/><circle cx="263.52" cy="766.27" r="0.68" fill="#f6f0da"/><circle cx="266.77" cy="769.14" r="0.51" fill="#f6f0da"/><circle cx="266.1" cy="769.74" r="0.67" fill="#f6f0da"/><circle cx="266.23" cy="767" r="0.74" fill="#f6f0da"/><circle cx="265.19" cy="770.01" r="0.55" fill="#f6f0da"/><circle cx="260.77" cy="767.76" r="0.47" fill="#f6f0da"/><circle cx="260.91" cy="768.78" r="0.67" fill="#f6f0da"/><circle cx="261.58" cy="766.36" r="0.66" fill="#f6f0da"/><circle cx="262.29" cy="770.75" r="0.48" fill="#f6f0da"/><circle cx="263.51" cy="765.56" r="0.65" fill="#f6f0da"/><circle cx="281.89" cy="766.61" r="0.83" fill="#f3ebd0"/><circle cx="283.76" cy="764.65" r="0.8" fill="#f3ebd0"/><circle cx="283.79" cy="765.3" r="0.58" fill="#f3ebd0"/><circle cx="275.5" cy="766.3" r="0.6" fill="#f2ead0"/><circle cx="244.9" cy="784.5" r="5.2" fill="#efe7c9"/><circle cx="244.9" cy="784.5" r="4.8" fill="none" stroke="#faf6e6" stroke-width="0.8" opacity="0.8"/><circle cx="263.3" cy="783" r="4.3" fill="#cfcab2" opacity="0.8"/><circle cx="262.76" cy="781.82" r="0.67" fill="#f6f0da"/><circle cx="265.44" cy="779.71" r="0.63" fill="#f6f0da"/><circle cx="261.52" cy="781.08" r="0.63" fill="#f6f0da"/><circle cx="266.07" cy="785.23" r="0.66" fill="#f6f0da"/><circle cx="262.77" cy="785.59" r="0.71" fill="#f6f0da"/><circle cx="259.35" cy="784.45" r="0.79" fill="#f6f0da"/><circle cx="263.98" cy="781.9" r="0.48" fill="#f6f0da"/><circle cx="262.68" cy="785.51" r="0.7" fill="#f6f0da"/><circle cx="264.8" cy="780.14" r="0.67" fill="#f6f0da"/><circle cx="262.59" cy="782.65" r="0.63" fill="#f6f0da"/><circle cx="263.94" cy="785.7" r="0.45" fill="#f6f0da"/><circle cx="261.01" cy="779.6" r="0.47" fill="#f6f0da"/><circle cx="262.72" cy="782.68" r="0.57" fill="#f6f0da"/><circle cx="265.45" cy="786.36" r="0.7" fill="#f6f0da"/><circle cx="264.9" cy="781.78" r="0.7" fill="#f6f0da"/><circle cx="262.34" cy="780.08" r="0.77" fill="#f6f0da"/><circle cx="261.68" cy="781.38" r="0.7" fill="#f6f0da"/><circle cx="261.33" cy="783.23" r="0.67" fill="#f6f0da"/><circle cx="266.05" cy="783.86" r="0.64" fill="#f6f0da"/><circle cx="266.76" cy="783.06" r="0.48" fill="#f6f0da"/><circle cx="261.82" cy="780.97" r="0.46" fill="#f6f0da"/><circle cx="264.39" cy="783" r="0.5" fill="#f6f0da"/><circle cx="261.17" cy="782.92" r="0.64" fill="#f6f0da"/><circle cx="260.08" cy="783.53" r="0.64" fill="#f6f0da"/><circle cx="262.76" cy="784.9" r="0.69" fill="#f6f0da"/><circle cx="260.5" cy="784.34" r="0.77" fill="#f6f0da"/><circle cx="265.56" cy="783.12" r="0.65" fill="#f6f0da"/><circle cx="266.82" cy="784.24" r="0.59" fill="#f6f0da"/><circle cx="262.53" cy="784.73" r="0.79" fill="#f6f0da"/><circle cx="280" cy="777.5" r="1.4" fill="#f2ead0"/><circle cx="282.6" cy="784" r="1" fill="#f2ead0"/><circle cx="295.7" cy="777.7" r="1.1" fill="#f2ead0"/><circle cx="245.4" cy="801.2" r="4.9" fill="#d5d0b6" opacity="0.8"/><circle cx="243.35" cy="798.73" r="0.7" fill="#f6f0da"/><circle cx="249.14" cy="802.85" r="0.58" fill="#f6f0da"/><circle cx="243.83" cy="799.93" r="0.57" fill="#f6f0da"/><circle cx="245.1" cy="804" r="0.7" fill="#f6f0da"/><circle cx="240.66" cy="802.01" r="0.65" fill="#f6f0da"/><circle cx="246.04" cy="804.98" r="0.63" fill="#f6f0da"/><circle cx="247.65" cy="803.95" r="0.45" fill="#f6f0da"/><circle cx="242.87" cy="803.75" r="0.69" fill="#f6f0da"/><circle cx="249.12" cy="800.23" r="0.46" fill="#f6f0da"/><circle cx="242.98" cy="801.58" r="0.71" fill="#f6f0da"/><circle cx="246.53" cy="800.31" r="0.72" fill="#f6f0da"/><circle cx="244.84" cy="803.22" r="0.61" fill="#f6f0da"/><circle cx="243.11" cy="802.48" r="0.54" fill="#f6f0da"/><circle cx="241.68" cy="802.85" r="0.51" fill="#f6f0da"/><circle cx="243.73" cy="802.92" r="0.71" fill="#f6f0da"/><circle cx="245.45" cy="805.41" r="0.46" fill="#f6f0da"/><circle cx="247.38" cy="798.68" r="0.78" fill="#f6f0da"/><circle cx="246.68" cy="796.89" r="0.46" fill="#f6f0da"/><circle cx="245.37" cy="797.65" r="0.76" fill="#f6f0da"/><circle cx="242.76" cy="800.03" r="0.77" fill="#f6f0da"/><circle cx="247.7" cy="801.12" r="0.5" fill="#f6f0da"/><circle cx="241.69" cy="802.62" r="0.51" fill="#f6f0da"/><circle cx="242.3" cy="799.35" r="0.73" fill="#f6f0da"/><circle cx="246.52" cy="802.65" r="0.63" fill="#f6f0da"/><circle cx="245.45" cy="797.45" r="0.71" fill="#f6f0da"/><circle cx="245.32" cy="802.08" r="0.69" fill="#f6f0da"/><circle cx="244.91" cy="800.55" r="0.48" fill="#f6f0da"/><circle cx="244.13" cy="797.41" r="0.52" fill="#f6f0da"/><circle cx="245.17" cy="804.36" r="0.46" fill="#f6f0da"/><circle cx="244.66" cy="803.48" r="0.46" fill="#f6f0da"/><circle cx="240.7" cy="800.47" r="0.48" fill="#f6f0da"/><circle cx="244.05" cy="797.61" r="0.55" fill="#f6f0da"/><circle cx="242.73" cy="797.82" r="0.54" fill="#f6f0da"/><circle cx="242.13" cy="803.29" r="0.6" fill="#f6f0da"/><circle cx="246.62" cy="804.06" r="0.7" fill="#f6f0da"/><circle cx="243.01" cy="799.77" r="0.55" fill="#f6f0da"/><circle cx="247.35" cy="804.69" r="0.72" fill="#f6f0da"/><circle cx="245.58" cy="805.06" r="0.47" fill="#f6f0da"/><circle cx="264.96" cy="801.5" r="0.68" fill="#f3ebd0"/><circle cx="262.72" cy="801.07" r="0.87" fill="#f3ebd0"/><circle cx="264.45" cy="801.49" r="0.67" fill="#f3ebd0"/><circle cx="265.14" cy="798.21" r="0.97" fill="#f3ebd0"/><circle cx="264.75" cy="799.82" r="0.78" fill="#f3ebd0"/><circle cx="262.2" cy="800.92" r="0.96" fill="#f3ebd0"/><circle cx="262.86" cy="799.56" r="0.9" fill="#f3ebd0"/><circle cx="263.03" cy="800.08" r="0.73" fill="#f3ebd0"/><circle cx="278.01" cy="800.23" r="0.54" fill="#f3ebd0"/><circle cx="279.56" cy="801.81" r="0.77" fill="#f3ebd0"/><circle cx="280.9" cy="800.64" r="0.85" fill="#f3ebd0"/><circle cx="279.65" cy="799.84" r="0.86" fill="#f3ebd0"/><circle cx="355.8" cy="751" r="4.3" fill="#d6d2ba" opacity="0.75"/><circle cx="354.29" cy="752.4" r="0.51" fill="#f6f0da"/><circle cx="358.6" cy="749.32" r="0.69" fill="#f6f0da"/><circle cx="353.28" cy="750.13" r="0.71" fill="#f6f0da"/><circle cx="352.43" cy="749.24" r="0.68" fill="#f6f0da"/><circle cx="357.32" cy="748.59" r="0.5" fill="#f6f0da"/><circle cx="357.95" cy="753.96" r="0.51" fill="#f6f0da"/><circle cx="353.89" cy="748.2" r="0.47" fill="#f6f0da"/><circle cx="355.97" cy="750.24" r="0.75" fill="#f6f0da"/><circle cx="356.88" cy="749.32" r="0.7" fill="#f6f0da"/><circle cx="355.63" cy="749.49" r="0.68" fill="#f6f0da"/><circle cx="358.73" cy="753.88" r="0.69" fill="#f6f0da"/><circle cx="356.79" cy="750.88" r="0.56" fill="#f6f0da"/><circle cx="353.35" cy="748.71" r="0.51" fill="#f6f0da"/><circle cx="358.81" cy="748.44" r="0.56" fill="#f6f0da"/><circle cx="357.94" cy="753.79" r="0.59" fill="#f6f0da"/><circle cx="354.24" cy="748.42" r="0.59" fill="#f6f0da"/><circle cx="357.37" cy="751.21" r="0.61" fill="#f6f0da"/><circle cx="355.42" cy="748.22" r="0.71" fill="#f6f0da"/><circle cx="351.89" cy="750" r="0.68" fill="#f6f0da"/><circle cx="355.1" cy="752.44" r="0.47" fill="#f6f0da"/><circle cx="359.67" cy="751.98" r="0.76" fill="#f6f0da"/><circle cx="355.81" cy="749.58" r="0.68" fill="#f6f0da"/><circle cx="358.62" cy="753.91" r="0.68" fill="#f6f0da"/><circle cx="355.79" cy="747.64" r="0.6" fill="#f6f0da"/><circle cx="358.24" cy="747.56" r="0.53" fill="#f6f0da"/><circle cx="352.4" cy="752.41" r="0.69" fill="#f6f0da"/><circle cx="353.36" cy="752.54" r="0.79" fill="#f6f0da"/><circle cx="355.48" cy="752.95" r="0.69" fill="#f6f0da"/><circle cx="355.11" cy="755.02" r="0.56" fill="#f6f0da"/><circle cx="358.16" cy="749.79" r="0.76" fill="#f6f0da"/><circle cx="369.2" cy="751.14" r="0.63" fill="#f3ebd0"/><circle cx="369.93" cy="754.04" r="0.78" fill="#f3ebd0"/><circle cx="370.19" cy="750.95" r="0.68" fill="#f3ebd0"/><circle cx="370.88" cy="751.76" r="0.71" fill="#f3ebd0"/><circle cx="370.82" cy="751.72" r="0.77" fill="#f3ebd0"/><circle cx="368.15" cy="751.11" r="0.75" fill="#f3ebd0"/><circle cx="356.3" cy="767.3" r="4.5" fill="#d6d2ba" opacity="0.75"/><circle cx="359.95" cy="768.2" r="0.5" fill="#f6f0da"/><circle cx="352.71" cy="768.16" r="0.73" fill="#f6f0da"/><circle cx="353.26" cy="768.22" r="0.46" fill="#f6f0da"/><circle cx="353.8" cy="768.43" r="0.75" fill="#f6f0da"/><circle cx="352.56" cy="766.16" r="0.6" fill="#f6f0da"/><circle cx="358.16" cy="771.01" r="0.74" fill="#f6f0da"/><circle cx="355.31" cy="768.28" r="0.63" fill="#f6f0da"/><circle cx="352.35" cy="767.4" r="0.66" fill="#f6f0da"/><circle cx="352.89" cy="767.16" r="0.58" fill="#f6f0da"/><circle cx="357.36" cy="767.64" r="0.78" fill="#f6f0da"/><circle cx="357.6" cy="765.22" r="0.76" fill="#f6f0da"/><circle cx="354.87" cy="767.1" r="0.75" fill="#f6f0da"/><circle cx="352.55" cy="765.1" r="0.69" fill="#f6f0da"/><circle cx="359.25" cy="769.28" r="0.73" fill="#f6f0da"/><circle cx="358.38" cy="765.76" r="0.64" fill="#f6f0da"/><circle cx="355.74" cy="765.55" r="0.75" fill="#f6f0da"/><circle cx="356.49" cy="766.31" r="0.66" fill="#f6f0da"/><circle cx="354.99" cy="768.73" r="0.66" fill="#f6f0da"/><circle cx="359.58" cy="766.66" r="0.49" fill="#f6f0da"/><circle cx="352.33" cy="767.43" r="0.78" fill="#f6f0da"/><circle cx="356.1" cy="766.41" r="0.79" fill="#f6f0da"/><circle cx="355.26" cy="766.52" r="0.49" fill="#f6f0da"/><circle cx="359.44" cy="769.19" r="0.5" fill="#f6f0da"/><circle cx="356.82" cy="765.91" r="0.64" fill="#f6f0da"/><circle cx="355.48" cy="767.61" r="0.45" fill="#f6f0da"/><circle cx="359.95" cy="764.77" r="0.49" fill="#f6f0da"/><circle cx="355.87" cy="762.85" r="0.77" fill="#f6f0da"/><circle cx="358.26" cy="765.57" r="0.7" fill="#f6f0da"/><circle cx="351.94" cy="767.35" r="0.7" fill="#f6f0da"/><circle cx="358.61" cy="763.83" r="0.58" fill="#f6f0da"/><circle cx="355.98" cy="765.97" r="0.52" fill="#f6f0da"/><circle cx="358.94" cy="766.19" r="0.69" fill="#f6f0da"/><circle cx="369.27" cy="767.92" r="0.85" fill="#f3ebd0"/><circle cx="371.59" cy="767.99" r="0.54" fill="#f3ebd0"/><circle cx="371.2" cy="766.98" r="0.58" fill="#f3ebd0"/><circle cx="368.23" cy="766.56" r="0.79" fill="#f3ebd0"/><circle cx="369.71" cy="768.03" r="0.78" fill="#f3ebd0"/><circle cx="370.65" cy="767.47" r="0.84" fill="#f3ebd0"/><circle cx="356.3" cy="784.3" r="4.8" fill="#dcd8c0" opacity="0.85"/><circle cx="355.84" cy="787.62" r="0.48" fill="#f6f0da"/><circle cx="355.62" cy="785.4" r="0.45" fill="#f6f0da"/><circle cx="355.95" cy="785.91" r="0.56" fill="#f6f0da"/><circle cx="356.26" cy="783.39" r="0.67" fill="#f6f0da"/><circle cx="359.13" cy="787.51" r="0.71" fill="#f6f0da"/><circle cx="357.37" cy="788.59" r="0.7" fill="#f6f0da"/><circle cx="359.03" cy="785.69" r="0.7" fill="#f6f0da"/><circle cx="358.06" cy="783.37" r="0.54" fill="#f6f0da"/><circle cx="357.04" cy="779.65" r="0.48" fill="#f6f0da"/><circle cx="359.81" cy="786.53" r="0.56" fill="#f6f0da"/><circle cx="352.9" cy="787.23" r="0.71" fill="#f6f0da"/><circle cx="353.92" cy="780.51" r="0.71" fill="#f6f0da"/><circle cx="357.72" cy="780.72" r="0.66" fill="#f6f0da"/><circle cx="360.56" cy="785.98" r="0.77" fill="#f6f0da"/><circle cx="354.04" cy="787.35" r="0.46" fill="#f6f0da"/><circle cx="352.51" cy="784.3" r="0.55" fill="#f6f0da"/><circle cx="352.53" cy="786.55" r="0.5" fill="#f6f0da"/><circle cx="354.94" cy="784.69" r="0.58" fill="#f6f0da"/><circle cx="359.08" cy="781.77" r="0.46" fill="#f6f0da"/><circle cx="358.76" cy="781.28" r="0.63" fill="#f6f0da"/><circle cx="355.67" cy="786.86" r="0.51" fill="#f6f0da"/><circle cx="355.53" cy="783.56" r="0.78" fill="#f6f0da"/><circle cx="359.33" cy="786.58" r="0.65" fill="#f6f0da"/><circle cx="354.66" cy="786.23" r="0.6" fill="#f6f0da"/><circle cx="354.04" cy="788.46" r="0.68" fill="#f6f0da"/><circle cx="352.42" cy="783.84" r="0.62" fill="#f6f0da"/><circle cx="356.73" cy="784.88" r="0.79" fill="#f6f0da"/><circle cx="357.13" cy="783.07" r="0.66" fill="#f6f0da"/><circle cx="357.29" cy="779.87" r="0.47" fill="#f6f0da"/><circle cx="358.33" cy="786.52" r="0.66" fill="#f6f0da"/><circle cx="359.78" cy="786.29" r="0.71" fill="#f6f0da"/><circle cx="352.12" cy="785.75" r="0.59" fill="#f6f0da"/><circle cx="357.78" cy="781.73" r="0.59" fill="#f6f0da"/><circle cx="353.4" cy="787.12" r="0.76" fill="#f6f0da"/><circle cx="359.61" cy="785.92" r="0.74" fill="#f6f0da"/><circle cx="355.47" cy="782.13" r="0.58" fill="#f6f0da"/><circle cx="372.47" cy="782.98" r="0.7" fill="#f3ebd0"/><circle cx="372.11" cy="783.06" r="0.67" fill="#f3ebd0"/><circle cx="369.82" cy="782.82" r="0.5" fill="#f3ebd0"/><circle cx="372.53" cy="784.27" r="0.78" fill="#f3ebd0"/><text x="118.4" y="741.1" text-anchor="end" font-size="11.6" font-style="italic" fill="#2a2a2a">pIL75</text><text x="118.4" y="758.6" text-anchor="end" font-size="11.6" font-style="italic" fill="#2a2a2a">pIL75-P<tspan font-size="6.6" dy="3.4">KlTEF1</tspan><tspan dy="-3.4">-KYE1-17</tspan></text><text x="118.4" y="776.1" text-anchor="end" font-size="11.6" font-style="italic" fill="#2a2a2a">pIL75-P<tspan font-size="6.6" dy="3.4">KlTEF1</tspan><tspan dy="-3.4">-KYE1-21</tspan></text><text x="118.4" y="791.9" text-anchor="end" font-size="11.6" font-style="italic" fill="#2a2a2a">pIL75-P<tspan font-size="6.6" dy="3.4">KlTEF1</tspan><tspan dy="-3.4">-KYE1-24</tspan></text><text x="118.4" y="808.3" text-anchor="end" font-size="11.6" font-style="italic" fill="#2a2a2a">pIL75-P<tspan font-size="6.6" dy="3.4">KlTEF1</tspan><tspan dy="-3.4">-GFP</tspan></text><text x="452.8" y="651.8" font-size="17" font-weight="bold" fill="#1a1a1a">E</text><g stroke="#333" stroke-width="1.1"><line x1="505.9" y1="651.3" x2="505.9" y2="804.8"/><line x1="505.4" y1="804.3" x2="685" y2="804.3"/></g><line x1="503.8" y1="798.1" x2="506" y2="798.1" stroke="#444" stroke-width="1"/><text x="502.6" y="802.4" text-anchor="end" font-size="11" fill="#333">0.00</text><line x1="503.8" y1="756.9" x2="506" y2="756.9" stroke="#444" stroke-width="1"/><text x="502.6" y="761.2" text-anchor="end" font-size="11" fill="#333">0.25</text><line x1="503.8" y1="715.7" x2="506" y2="715.7" stroke="#444" stroke-width="1"/><text x="502.6" y="720" text-anchor="end" font-size="11" fill="#333">0.50</text><line x1="503.8" y1="674.5" x2="506" y2="674.5" stroke="#444" stroke-width="1"/><text x="502.6" y="678.8" text-anchor="end" font-size="11" fill="#333">0.75</text><line x1="538.5" y1="804.3" x2="538.5" y2="807.3" stroke="#333" stroke-width="1"/><text x="538.5" y="816" text-anchor="middle" font-size="10.8" font-style="italic" fill="#222">pIL75</text><line x1="595.8" y1="804.3" x2="595.8" y2="807.3" stroke="#333" stroke-width="1"/><text x="595.8" y="816" text-anchor="middle" font-size="10.8" font-style="italic" fill="#222">KYE1</text><line x1="650.7" y1="804.3" x2="650.7" y2="807.3" stroke="#333" stroke-width="1"/><text x="650.7" y="816" text-anchor="middle" font-size="10.8" font-style="italic" fill="#222">GFP</text><text transform="translate(477.4,727.4) rotate(-90)" text-anchor="middle" font-size="10.3" fill="#222">Relative EAUC 0.5mM TBOOH</text><text x="538.5" y="657.3" text-anchor="middle" font-size="8.6" fill="#222"><tspan font-style="italic">p</tspan>=0.19011</text><text x="593.4" y="657.3" text-anchor="middle" font-size="8.6" fill="#222"><tspan font-style="italic">p</tspan>=0.00038</text><line x1="539.7" y1="743.72" x2="539.7" y2="798.1" stroke="#111" stroke-width="1"/><rect x="519.6" y="747.01" width="40.2" height="27.19" fill="#b4b4b4" stroke="#222" stroke-width="1"/><line x1="519.6" y1="750.31" x2="559.8" y2="750.31" stroke="#111" stroke-width="2"/><circle cx="538.5" cy="750.31" r="2" fill="#111"/><circle cx="549.5" cy="743.72" r="2" fill="#111"/><circle cx="538.5" cy="798.1" r="2" fill="#111"/><line x1="596" y1="699.22" x2="596" y2="738.77" stroke="#2b4a9b" stroke-width="1"/><rect x="576.2" y="703.34" width="39.5" height="17.3" fill="#5b7dc9" stroke="#2b4a9b" stroke-width="1"/><line x1="576.2" y1="718.17" x2="615.7" y2="718.17" stroke="#2b4a9b" stroke-width="2"/><circle cx="596.8" cy="664.61" r="2" fill="#2b3f96"/><circle cx="604.4" cy="698.4" r="2" fill="#2b3f96"/><circle cx="585.8" cy="720.64" r="2" fill="#2b3f96"/><circle cx="596.8" cy="717.35" r="2" fill="#2b3f96"/><circle cx="605" cy="719" r="2" fill="#2b3f96"/><circle cx="604.4" cy="738.77" r="2" fill="#2b3f96"/><line x1="631.8" y1="796.7" x2="670.6" y2="796.7" stroke="#1a7a3e" stroke-width="2"/><circle cx="646" cy="797.44" r="1.8" fill="#1a7a3e"/><circle cx="652" cy="797.44" r="1.8" fill="#1a7a3e"/><circle cx="657" cy="796.29" r="1.8" fill="#1a7a3e"/></svg>
</body></html>
